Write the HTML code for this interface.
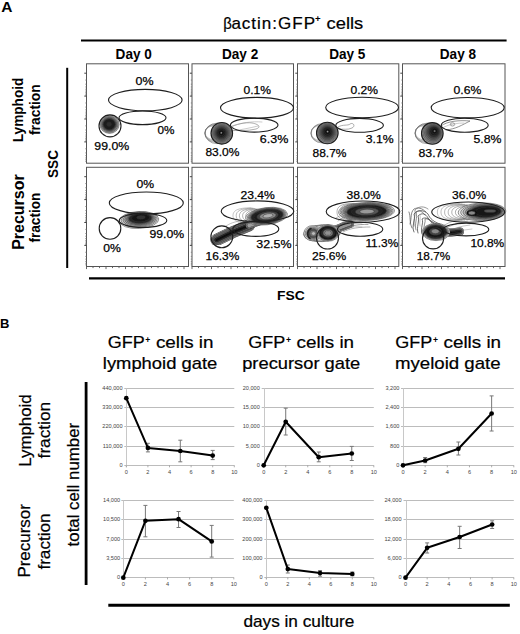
<!DOCTYPE html><html><head><meta charset="utf-8"><style>html,body{margin:0;padding:0;background:#fff;width:520px;height:634px;overflow:hidden}svg{display:block}text{font-family:"Liberation Sans",sans-serif}</style></head><body><svg width="520" height="634" viewBox="0 0 520 634"><defs>
<filter id="soft" x="-5%" y="-5%" width="110%" height="110%"><feGaussianBlur stdDeviation="0.35"/></filter>
<radialGradient id="gD"><stop offset="0" stop-color="#141414"/><stop offset="0.5" stop-color="#1c1c1c"/><stop offset="0.72" stop-color="#444"/><stop offset="0.88" stop-color="#7a7a7a"/><stop offset="1" stop-color="#a0a0a0"/></radialGradient>
<radialGradient id="gC"><stop offset="0" stop-color="#101010"/><stop offset="0.3" stop-color="#1a1a1a"/><stop offset="0.5" stop-color="#555"/><stop offset="0.8" stop-color="#7d7d7d"/><stop offset="1" stop-color="#9a9a9a"/></radialGradient>
<radialGradient id="gR"><stop offset="0" stop-color="#9a9a9a"/><stop offset="0.35" stop-color="#555"/><stop offset="0.6" stop-color="#161616"/><stop offset="0.85" stop-color="#222"/><stop offset="1" stop-color="#777"/></radialGradient>
<radialGradient id="gM"><stop offset="0" stop-color="#3a3a3a"/><stop offset="0.6" stop-color="#555"/><stop offset="1" stop-color="#9a9a9a"/></radialGradient>
<radialGradient id="gL"><stop offset="0" stop-color="#888"/><stop offset="0.7" stop-color="#aaa"/><stop offset="1" stop-color="#d0d0d0"/></radialGradient>
</defs><rect width="520" height="634" fill="#fff"/><text x="1.2" y="11.5" font-size="14.4" font-weight="bold" textLength="11.2" lengthAdjust="spacingAndGlyphs">A</text>
<text x="223.3" y="28.6" font-size="17" stroke="#000" stroke-width="0.22" textLength="8.6" lengthAdjust="spacingAndGlyphs">&#946;</text>
<text x="231.4" y="28.6" font-size="17" stroke="#000" stroke-width="0.22" textLength="83.6" lengthAdjust="spacing">actin:GFP</text>
<text x="314.9" y="22.0" font-size="9.6" font-weight="bold">+</text>
<text x="326.6" y="28.6" font-size="17" stroke="#000" stroke-width="0.22" textLength="36.6" lengthAdjust="spacingAndGlyphs">cells</text>
<line x1="81" y1="40.4" x2="506.6" y2="40.4" stroke="#000" stroke-width="2.0" />
<text x="115.6" y="59.2" font-size="13.8" font-weight="bold" textLength="36.2" lengthAdjust="spacingAndGlyphs">Day 0</text>
<text x="222.0" y="59.2" font-size="13.8" font-weight="bold" textLength="36.2" lengthAdjust="spacingAndGlyphs">Day 2</text>
<text x="329.2" y="59.2" font-size="13.8" font-weight="bold" textLength="36.2" lengthAdjust="spacingAndGlyphs">Day 5</text>
<text x="439.8" y="59.2" font-size="13.8" font-weight="bold" textLength="36.2" lengthAdjust="spacingAndGlyphs">Day 8</text>
<line x1="67.2" y1="67.8" x2="67.2" y2="268.0" stroke="#000" stroke-width="2.0" />
<rect x="86.5" y="63.8" width="102.0" height="99.39999999999999" fill="none" stroke="#555" stroke-width="1"/>
<line x1="84.3" y1="73.2" x2="86.5" y2="73.2" stroke="#444" stroke-width="1" />
<line x1="85.3" y1="80.07000000000001" x2="86.5" y2="80.07000000000001" stroke="#777" stroke-width="0.8" />
<line x1="85.3" y1="84.19200000000001" x2="86.5" y2="84.19200000000001" stroke="#777" stroke-width="0.8" />
<line x1="85.3" y1="86.94" x2="86.5" y2="86.94" stroke="#777" stroke-width="0.8" />
<line x1="85.3" y1="89.23" x2="86.5" y2="89.23" stroke="#777" stroke-width="0.8" />
<line x1="85.3" y1="91.062" x2="86.5" y2="91.062" stroke="#777" stroke-width="0.8" />
<line x1="85.3" y1="92.665" x2="86.5" y2="92.665" stroke="#777" stroke-width="0.8" />
<line x1="85.3" y1="94.039" x2="86.5" y2="94.039" stroke="#777" stroke-width="0.8" />
<line x1="85.3" y1="95.184" x2="86.5" y2="95.184" stroke="#777" stroke-width="0.8" />
<line x1="84.3" y1="96.1" x2="86.5" y2="96.1" stroke="#444" stroke-width="1" />
<line x1="85.3" y1="102.97" x2="86.5" y2="102.97" stroke="#777" stroke-width="0.8" />
<line x1="85.3" y1="107.092" x2="86.5" y2="107.092" stroke="#777" stroke-width="0.8" />
<line x1="85.3" y1="109.83999999999999" x2="86.5" y2="109.83999999999999" stroke="#777" stroke-width="0.8" />
<line x1="85.3" y1="112.13" x2="86.5" y2="112.13" stroke="#777" stroke-width="0.8" />
<line x1="85.3" y1="113.96199999999999" x2="86.5" y2="113.96199999999999" stroke="#777" stroke-width="0.8" />
<line x1="85.3" y1="115.565" x2="86.5" y2="115.565" stroke="#777" stroke-width="0.8" />
<line x1="85.3" y1="116.939" x2="86.5" y2="116.939" stroke="#777" stroke-width="0.8" />
<line x1="85.3" y1="118.08399999999999" x2="86.5" y2="118.08399999999999" stroke="#777" stroke-width="0.8" />
<line x1="84.3" y1="119.0" x2="86.5" y2="119.0" stroke="#444" stroke-width="1" />
<line x1="85.3" y1="125.87" x2="86.5" y2="125.87" stroke="#777" stroke-width="0.8" />
<line x1="85.3" y1="129.992" x2="86.5" y2="129.992" stroke="#777" stroke-width="0.8" />
<line x1="85.3" y1="132.74" x2="86.5" y2="132.74" stroke="#777" stroke-width="0.8" />
<line x1="85.3" y1="135.03" x2="86.5" y2="135.03" stroke="#777" stroke-width="0.8" />
<line x1="85.3" y1="136.862" x2="86.5" y2="136.862" stroke="#777" stroke-width="0.8" />
<line x1="85.3" y1="138.465" x2="86.5" y2="138.465" stroke="#777" stroke-width="0.8" />
<line x1="85.3" y1="139.839" x2="86.5" y2="139.839" stroke="#777" stroke-width="0.8" />
<line x1="85.3" y1="140.984" x2="86.5" y2="140.984" stroke="#777" stroke-width="0.8" />
<line x1="84.3" y1="141.89999999999998" x2="86.5" y2="141.89999999999998" stroke="#444" stroke-width="1" />
<line x1="85.3" y1="148.76999999999998" x2="86.5" y2="148.76999999999998" stroke="#777" stroke-width="0.8" />
<line x1="85.3" y1="152.89199999999997" x2="86.5" y2="152.89199999999997" stroke="#777" stroke-width="0.8" />
<line x1="85.3" y1="155.64" x2="86.5" y2="155.64" stroke="#777" stroke-width="0.8" />
<line x1="85.3" y1="157.92999999999998" x2="86.5" y2="157.92999999999998" stroke="#777" stroke-width="0.8" />
<line x1="85.3" y1="159.76199999999997" x2="86.5" y2="159.76199999999997" stroke="#777" stroke-width="0.8" />
<line x1="85.3" y1="161.36499999999998" x2="86.5" y2="161.36499999999998" stroke="#777" stroke-width="0.8" />
<rect x="192.0" y="63.8" width="101.5" height="99.39999999999999" fill="none" stroke="#555" stroke-width="1"/>
<line x1="189.8" y1="73.2" x2="192.0" y2="73.2" stroke="#444" stroke-width="1" />
<line x1="190.8" y1="80.07000000000001" x2="192.0" y2="80.07000000000001" stroke="#777" stroke-width="0.8" />
<line x1="190.8" y1="84.19200000000001" x2="192.0" y2="84.19200000000001" stroke="#777" stroke-width="0.8" />
<line x1="190.8" y1="86.94" x2="192.0" y2="86.94" stroke="#777" stroke-width="0.8" />
<line x1="190.8" y1="89.23" x2="192.0" y2="89.23" stroke="#777" stroke-width="0.8" />
<line x1="190.8" y1="91.062" x2="192.0" y2="91.062" stroke="#777" stroke-width="0.8" />
<line x1="190.8" y1="92.665" x2="192.0" y2="92.665" stroke="#777" stroke-width="0.8" />
<line x1="190.8" y1="94.039" x2="192.0" y2="94.039" stroke="#777" stroke-width="0.8" />
<line x1="190.8" y1="95.184" x2="192.0" y2="95.184" stroke="#777" stroke-width="0.8" />
<line x1="189.8" y1="96.1" x2="192.0" y2="96.1" stroke="#444" stroke-width="1" />
<line x1="190.8" y1="102.97" x2="192.0" y2="102.97" stroke="#777" stroke-width="0.8" />
<line x1="190.8" y1="107.092" x2="192.0" y2="107.092" stroke="#777" stroke-width="0.8" />
<line x1="190.8" y1="109.83999999999999" x2="192.0" y2="109.83999999999999" stroke="#777" stroke-width="0.8" />
<line x1="190.8" y1="112.13" x2="192.0" y2="112.13" stroke="#777" stroke-width="0.8" />
<line x1="190.8" y1="113.96199999999999" x2="192.0" y2="113.96199999999999" stroke="#777" stroke-width="0.8" />
<line x1="190.8" y1="115.565" x2="192.0" y2="115.565" stroke="#777" stroke-width="0.8" />
<line x1="190.8" y1="116.939" x2="192.0" y2="116.939" stroke="#777" stroke-width="0.8" />
<line x1="190.8" y1="118.08399999999999" x2="192.0" y2="118.08399999999999" stroke="#777" stroke-width="0.8" />
<line x1="189.8" y1="119.0" x2="192.0" y2="119.0" stroke="#444" stroke-width="1" />
<line x1="190.8" y1="125.87" x2="192.0" y2="125.87" stroke="#777" stroke-width="0.8" />
<line x1="190.8" y1="129.992" x2="192.0" y2="129.992" stroke="#777" stroke-width="0.8" />
<line x1="190.8" y1="132.74" x2="192.0" y2="132.74" stroke="#777" stroke-width="0.8" />
<line x1="190.8" y1="135.03" x2="192.0" y2="135.03" stroke="#777" stroke-width="0.8" />
<line x1="190.8" y1="136.862" x2="192.0" y2="136.862" stroke="#777" stroke-width="0.8" />
<line x1="190.8" y1="138.465" x2="192.0" y2="138.465" stroke="#777" stroke-width="0.8" />
<line x1="190.8" y1="139.839" x2="192.0" y2="139.839" stroke="#777" stroke-width="0.8" />
<line x1="190.8" y1="140.984" x2="192.0" y2="140.984" stroke="#777" stroke-width="0.8" />
<line x1="189.8" y1="141.89999999999998" x2="192.0" y2="141.89999999999998" stroke="#444" stroke-width="1" />
<line x1="190.8" y1="148.76999999999998" x2="192.0" y2="148.76999999999998" stroke="#777" stroke-width="0.8" />
<line x1="190.8" y1="152.89199999999997" x2="192.0" y2="152.89199999999997" stroke="#777" stroke-width="0.8" />
<line x1="190.8" y1="155.64" x2="192.0" y2="155.64" stroke="#777" stroke-width="0.8" />
<line x1="190.8" y1="157.92999999999998" x2="192.0" y2="157.92999999999998" stroke="#777" stroke-width="0.8" />
<line x1="190.8" y1="159.76199999999997" x2="192.0" y2="159.76199999999997" stroke="#777" stroke-width="0.8" />
<line x1="190.8" y1="161.36499999999998" x2="192.0" y2="161.36499999999998" stroke="#777" stroke-width="0.8" />
<rect x="297.5" y="63.8" width="101.30000000000001" height="99.39999999999999" fill="none" stroke="#555" stroke-width="1"/>
<line x1="295.3" y1="73.2" x2="297.5" y2="73.2" stroke="#444" stroke-width="1" />
<line x1="296.3" y1="80.07000000000001" x2="297.5" y2="80.07000000000001" stroke="#777" stroke-width="0.8" />
<line x1="296.3" y1="84.19200000000001" x2="297.5" y2="84.19200000000001" stroke="#777" stroke-width="0.8" />
<line x1="296.3" y1="86.94" x2="297.5" y2="86.94" stroke="#777" stroke-width="0.8" />
<line x1="296.3" y1="89.23" x2="297.5" y2="89.23" stroke="#777" stroke-width="0.8" />
<line x1="296.3" y1="91.062" x2="297.5" y2="91.062" stroke="#777" stroke-width="0.8" />
<line x1="296.3" y1="92.665" x2="297.5" y2="92.665" stroke="#777" stroke-width="0.8" />
<line x1="296.3" y1="94.039" x2="297.5" y2="94.039" stroke="#777" stroke-width="0.8" />
<line x1="296.3" y1="95.184" x2="297.5" y2="95.184" stroke="#777" stroke-width="0.8" />
<line x1="295.3" y1="96.1" x2="297.5" y2="96.1" stroke="#444" stroke-width="1" />
<line x1="296.3" y1="102.97" x2="297.5" y2="102.97" stroke="#777" stroke-width="0.8" />
<line x1="296.3" y1="107.092" x2="297.5" y2="107.092" stroke="#777" stroke-width="0.8" />
<line x1="296.3" y1="109.83999999999999" x2="297.5" y2="109.83999999999999" stroke="#777" stroke-width="0.8" />
<line x1="296.3" y1="112.13" x2="297.5" y2="112.13" stroke="#777" stroke-width="0.8" />
<line x1="296.3" y1="113.96199999999999" x2="297.5" y2="113.96199999999999" stroke="#777" stroke-width="0.8" />
<line x1="296.3" y1="115.565" x2="297.5" y2="115.565" stroke="#777" stroke-width="0.8" />
<line x1="296.3" y1="116.939" x2="297.5" y2="116.939" stroke="#777" stroke-width="0.8" />
<line x1="296.3" y1="118.08399999999999" x2="297.5" y2="118.08399999999999" stroke="#777" stroke-width="0.8" />
<line x1="295.3" y1="119.0" x2="297.5" y2="119.0" stroke="#444" stroke-width="1" />
<line x1="296.3" y1="125.87" x2="297.5" y2="125.87" stroke="#777" stroke-width="0.8" />
<line x1="296.3" y1="129.992" x2="297.5" y2="129.992" stroke="#777" stroke-width="0.8" />
<line x1="296.3" y1="132.74" x2="297.5" y2="132.74" stroke="#777" stroke-width="0.8" />
<line x1="296.3" y1="135.03" x2="297.5" y2="135.03" stroke="#777" stroke-width="0.8" />
<line x1="296.3" y1="136.862" x2="297.5" y2="136.862" stroke="#777" stroke-width="0.8" />
<line x1="296.3" y1="138.465" x2="297.5" y2="138.465" stroke="#777" stroke-width="0.8" />
<line x1="296.3" y1="139.839" x2="297.5" y2="139.839" stroke="#777" stroke-width="0.8" />
<line x1="296.3" y1="140.984" x2="297.5" y2="140.984" stroke="#777" stroke-width="0.8" />
<line x1="295.3" y1="141.89999999999998" x2="297.5" y2="141.89999999999998" stroke="#444" stroke-width="1" />
<line x1="296.3" y1="148.76999999999998" x2="297.5" y2="148.76999999999998" stroke="#777" stroke-width="0.8" />
<line x1="296.3" y1="152.89199999999997" x2="297.5" y2="152.89199999999997" stroke="#777" stroke-width="0.8" />
<line x1="296.3" y1="155.64" x2="297.5" y2="155.64" stroke="#777" stroke-width="0.8" />
<line x1="296.3" y1="157.92999999999998" x2="297.5" y2="157.92999999999998" stroke="#777" stroke-width="0.8" />
<line x1="296.3" y1="159.76199999999997" x2="297.5" y2="159.76199999999997" stroke="#777" stroke-width="0.8" />
<line x1="296.3" y1="161.36499999999998" x2="297.5" y2="161.36499999999998" stroke="#777" stroke-width="0.8" />
<rect x="402.5" y="63.8" width="102.5" height="99.39999999999999" fill="none" stroke="#555" stroke-width="1"/>
<line x1="400.3" y1="73.2" x2="402.5" y2="73.2" stroke="#444" stroke-width="1" />
<line x1="401.3" y1="80.07000000000001" x2="402.5" y2="80.07000000000001" stroke="#777" stroke-width="0.8" />
<line x1="401.3" y1="84.19200000000001" x2="402.5" y2="84.19200000000001" stroke="#777" stroke-width="0.8" />
<line x1="401.3" y1="86.94" x2="402.5" y2="86.94" stroke="#777" stroke-width="0.8" />
<line x1="401.3" y1="89.23" x2="402.5" y2="89.23" stroke="#777" stroke-width="0.8" />
<line x1="401.3" y1="91.062" x2="402.5" y2="91.062" stroke="#777" stroke-width="0.8" />
<line x1="401.3" y1="92.665" x2="402.5" y2="92.665" stroke="#777" stroke-width="0.8" />
<line x1="401.3" y1="94.039" x2="402.5" y2="94.039" stroke="#777" stroke-width="0.8" />
<line x1="401.3" y1="95.184" x2="402.5" y2="95.184" stroke="#777" stroke-width="0.8" />
<line x1="400.3" y1="96.1" x2="402.5" y2="96.1" stroke="#444" stroke-width="1" />
<line x1="401.3" y1="102.97" x2="402.5" y2="102.97" stroke="#777" stroke-width="0.8" />
<line x1="401.3" y1="107.092" x2="402.5" y2="107.092" stroke="#777" stroke-width="0.8" />
<line x1="401.3" y1="109.83999999999999" x2="402.5" y2="109.83999999999999" stroke="#777" stroke-width="0.8" />
<line x1="401.3" y1="112.13" x2="402.5" y2="112.13" stroke="#777" stroke-width="0.8" />
<line x1="401.3" y1="113.96199999999999" x2="402.5" y2="113.96199999999999" stroke="#777" stroke-width="0.8" />
<line x1="401.3" y1="115.565" x2="402.5" y2="115.565" stroke="#777" stroke-width="0.8" />
<line x1="401.3" y1="116.939" x2="402.5" y2="116.939" stroke="#777" stroke-width="0.8" />
<line x1="401.3" y1="118.08399999999999" x2="402.5" y2="118.08399999999999" stroke="#777" stroke-width="0.8" />
<line x1="400.3" y1="119.0" x2="402.5" y2="119.0" stroke="#444" stroke-width="1" />
<line x1="401.3" y1="125.87" x2="402.5" y2="125.87" stroke="#777" stroke-width="0.8" />
<line x1="401.3" y1="129.992" x2="402.5" y2="129.992" stroke="#777" stroke-width="0.8" />
<line x1="401.3" y1="132.74" x2="402.5" y2="132.74" stroke="#777" stroke-width="0.8" />
<line x1="401.3" y1="135.03" x2="402.5" y2="135.03" stroke="#777" stroke-width="0.8" />
<line x1="401.3" y1="136.862" x2="402.5" y2="136.862" stroke="#777" stroke-width="0.8" />
<line x1="401.3" y1="138.465" x2="402.5" y2="138.465" stroke="#777" stroke-width="0.8" />
<line x1="401.3" y1="139.839" x2="402.5" y2="139.839" stroke="#777" stroke-width="0.8" />
<line x1="401.3" y1="140.984" x2="402.5" y2="140.984" stroke="#777" stroke-width="0.8" />
<line x1="400.3" y1="141.89999999999998" x2="402.5" y2="141.89999999999998" stroke="#444" stroke-width="1" />
<line x1="401.3" y1="148.76999999999998" x2="402.5" y2="148.76999999999998" stroke="#777" stroke-width="0.8" />
<line x1="401.3" y1="152.89199999999997" x2="402.5" y2="152.89199999999997" stroke="#777" stroke-width="0.8" />
<line x1="401.3" y1="155.64" x2="402.5" y2="155.64" stroke="#777" stroke-width="0.8" />
<line x1="401.3" y1="157.92999999999998" x2="402.5" y2="157.92999999999998" stroke="#777" stroke-width="0.8" />
<line x1="401.3" y1="159.76199999999997" x2="402.5" y2="159.76199999999997" stroke="#777" stroke-width="0.8" />
<line x1="401.3" y1="161.36499999999998" x2="402.5" y2="161.36499999999998" stroke="#777" stroke-width="0.8" />
<rect x="86.5" y="167.3" width="102.0" height="99.19999999999999" fill="none" stroke="#555" stroke-width="1"/>
<line x1="84.3" y1="176.70000000000002" x2="86.5" y2="176.70000000000002" stroke="#444" stroke-width="1" />
<line x1="85.3" y1="183.57000000000002" x2="86.5" y2="183.57000000000002" stroke="#777" stroke-width="0.8" />
<line x1="85.3" y1="187.692" x2="86.5" y2="187.692" stroke="#777" stroke-width="0.8" />
<line x1="85.3" y1="190.44000000000003" x2="86.5" y2="190.44000000000003" stroke="#777" stroke-width="0.8" />
<line x1="85.3" y1="192.73000000000002" x2="86.5" y2="192.73000000000002" stroke="#777" stroke-width="0.8" />
<line x1="85.3" y1="194.562" x2="86.5" y2="194.562" stroke="#777" stroke-width="0.8" />
<line x1="85.3" y1="196.16500000000002" x2="86.5" y2="196.16500000000002" stroke="#777" stroke-width="0.8" />
<line x1="85.3" y1="197.53900000000002" x2="86.5" y2="197.53900000000002" stroke="#777" stroke-width="0.8" />
<line x1="85.3" y1="198.68400000000003" x2="86.5" y2="198.68400000000003" stroke="#777" stroke-width="0.8" />
<line x1="84.3" y1="199.60000000000002" x2="86.5" y2="199.60000000000002" stroke="#444" stroke-width="1" />
<line x1="85.3" y1="206.47000000000003" x2="86.5" y2="206.47000000000003" stroke="#777" stroke-width="0.8" />
<line x1="85.3" y1="210.592" x2="86.5" y2="210.592" stroke="#777" stroke-width="0.8" />
<line x1="85.3" y1="213.34000000000003" x2="86.5" y2="213.34000000000003" stroke="#777" stroke-width="0.8" />
<line x1="85.3" y1="215.63000000000002" x2="86.5" y2="215.63000000000002" stroke="#777" stroke-width="0.8" />
<line x1="85.3" y1="217.46200000000002" x2="86.5" y2="217.46200000000002" stroke="#777" stroke-width="0.8" />
<line x1="85.3" y1="219.06500000000003" x2="86.5" y2="219.06500000000003" stroke="#777" stroke-width="0.8" />
<line x1="85.3" y1="220.43900000000002" x2="86.5" y2="220.43900000000002" stroke="#777" stroke-width="0.8" />
<line x1="85.3" y1="221.58400000000003" x2="86.5" y2="221.58400000000003" stroke="#777" stroke-width="0.8" />
<line x1="84.3" y1="222.5" x2="86.5" y2="222.5" stroke="#444" stroke-width="1" />
<line x1="85.3" y1="229.37" x2="86.5" y2="229.37" stroke="#777" stroke-width="0.8" />
<line x1="85.3" y1="233.492" x2="86.5" y2="233.492" stroke="#777" stroke-width="0.8" />
<line x1="85.3" y1="236.24" x2="86.5" y2="236.24" stroke="#777" stroke-width="0.8" />
<line x1="85.3" y1="238.53" x2="86.5" y2="238.53" stroke="#777" stroke-width="0.8" />
<line x1="85.3" y1="240.362" x2="86.5" y2="240.362" stroke="#777" stroke-width="0.8" />
<line x1="85.3" y1="241.965" x2="86.5" y2="241.965" stroke="#777" stroke-width="0.8" />
<line x1="85.3" y1="243.339" x2="86.5" y2="243.339" stroke="#777" stroke-width="0.8" />
<line x1="85.3" y1="244.484" x2="86.5" y2="244.484" stroke="#777" stroke-width="0.8" />
<line x1="84.3" y1="245.4" x2="86.5" y2="245.4" stroke="#444" stroke-width="1" />
<line x1="85.3" y1="252.27" x2="86.5" y2="252.27" stroke="#777" stroke-width="0.8" />
<line x1="85.3" y1="256.392" x2="86.5" y2="256.392" stroke="#777" stroke-width="0.8" />
<line x1="85.3" y1="259.14" x2="86.5" y2="259.14" stroke="#777" stroke-width="0.8" />
<line x1="85.3" y1="261.43" x2="86.5" y2="261.43" stroke="#777" stroke-width="0.8" />
<line x1="85.3" y1="263.262" x2="86.5" y2="263.262" stroke="#777" stroke-width="0.8" />
<line x1="85.3" y1="264.865" x2="86.5" y2="264.865" stroke="#777" stroke-width="0.8" />
<line x1="86.5" y1="266.5" x2="86.5" y2="269.1" stroke="#555" stroke-width="0.9" />
<line x1="93.0" y1="266.5" x2="93.0" y2="268.1" stroke="#555" stroke-width="0.9" />
<line x1="99.5" y1="266.5" x2="99.5" y2="268.1" stroke="#555" stroke-width="0.9" />
<line x1="106.0" y1="266.5" x2="106.0" y2="269.1" stroke="#555" stroke-width="0.9" />
<line x1="112.5" y1="266.5" x2="112.5" y2="268.1" stroke="#555" stroke-width="0.9" />
<line x1="119.0" y1="266.5" x2="119.0" y2="268.1" stroke="#555" stroke-width="0.9" />
<line x1="125.5" y1="266.5" x2="125.5" y2="269.1" stroke="#555" stroke-width="0.9" />
<line x1="132.0" y1="266.5" x2="132.0" y2="268.1" stroke="#555" stroke-width="0.9" />
<line x1="138.5" y1="266.5" x2="138.5" y2="268.1" stroke="#555" stroke-width="0.9" />
<line x1="145.0" y1="266.5" x2="145.0" y2="269.1" stroke="#555" stroke-width="0.9" />
<line x1="151.5" y1="266.5" x2="151.5" y2="268.1" stroke="#555" stroke-width="0.9" />
<line x1="158.0" y1="266.5" x2="158.0" y2="268.1" stroke="#555" stroke-width="0.9" />
<line x1="164.5" y1="266.5" x2="164.5" y2="269.1" stroke="#555" stroke-width="0.9" />
<line x1="171.0" y1="266.5" x2="171.0" y2="268.1" stroke="#555" stroke-width="0.9" />
<line x1="177.5" y1="266.5" x2="177.5" y2="268.1" stroke="#555" stroke-width="0.9" />
<line x1="184.0" y1="266.5" x2="184.0" y2="269.1" stroke="#555" stroke-width="0.9" />
<rect x="192.0" y="167.3" width="101.5" height="99.19999999999999" fill="none" stroke="#555" stroke-width="1"/>
<line x1="189.8" y1="176.70000000000002" x2="192.0" y2="176.70000000000002" stroke="#444" stroke-width="1" />
<line x1="190.8" y1="183.57000000000002" x2="192.0" y2="183.57000000000002" stroke="#777" stroke-width="0.8" />
<line x1="190.8" y1="187.692" x2="192.0" y2="187.692" stroke="#777" stroke-width="0.8" />
<line x1="190.8" y1="190.44000000000003" x2="192.0" y2="190.44000000000003" stroke="#777" stroke-width="0.8" />
<line x1="190.8" y1="192.73000000000002" x2="192.0" y2="192.73000000000002" stroke="#777" stroke-width="0.8" />
<line x1="190.8" y1="194.562" x2="192.0" y2="194.562" stroke="#777" stroke-width="0.8" />
<line x1="190.8" y1="196.16500000000002" x2="192.0" y2="196.16500000000002" stroke="#777" stroke-width="0.8" />
<line x1="190.8" y1="197.53900000000002" x2="192.0" y2="197.53900000000002" stroke="#777" stroke-width="0.8" />
<line x1="190.8" y1="198.68400000000003" x2="192.0" y2="198.68400000000003" stroke="#777" stroke-width="0.8" />
<line x1="189.8" y1="199.60000000000002" x2="192.0" y2="199.60000000000002" stroke="#444" stroke-width="1" />
<line x1="190.8" y1="206.47000000000003" x2="192.0" y2="206.47000000000003" stroke="#777" stroke-width="0.8" />
<line x1="190.8" y1="210.592" x2="192.0" y2="210.592" stroke="#777" stroke-width="0.8" />
<line x1="190.8" y1="213.34000000000003" x2="192.0" y2="213.34000000000003" stroke="#777" stroke-width="0.8" />
<line x1="190.8" y1="215.63000000000002" x2="192.0" y2="215.63000000000002" stroke="#777" stroke-width="0.8" />
<line x1="190.8" y1="217.46200000000002" x2="192.0" y2="217.46200000000002" stroke="#777" stroke-width="0.8" />
<line x1="190.8" y1="219.06500000000003" x2="192.0" y2="219.06500000000003" stroke="#777" stroke-width="0.8" />
<line x1="190.8" y1="220.43900000000002" x2="192.0" y2="220.43900000000002" stroke="#777" stroke-width="0.8" />
<line x1="190.8" y1="221.58400000000003" x2="192.0" y2="221.58400000000003" stroke="#777" stroke-width="0.8" />
<line x1="189.8" y1="222.5" x2="192.0" y2="222.5" stroke="#444" stroke-width="1" />
<line x1="190.8" y1="229.37" x2="192.0" y2="229.37" stroke="#777" stroke-width="0.8" />
<line x1="190.8" y1="233.492" x2="192.0" y2="233.492" stroke="#777" stroke-width="0.8" />
<line x1="190.8" y1="236.24" x2="192.0" y2="236.24" stroke="#777" stroke-width="0.8" />
<line x1="190.8" y1="238.53" x2="192.0" y2="238.53" stroke="#777" stroke-width="0.8" />
<line x1="190.8" y1="240.362" x2="192.0" y2="240.362" stroke="#777" stroke-width="0.8" />
<line x1="190.8" y1="241.965" x2="192.0" y2="241.965" stroke="#777" stroke-width="0.8" />
<line x1="190.8" y1="243.339" x2="192.0" y2="243.339" stroke="#777" stroke-width="0.8" />
<line x1="190.8" y1="244.484" x2="192.0" y2="244.484" stroke="#777" stroke-width="0.8" />
<line x1="189.8" y1="245.4" x2="192.0" y2="245.4" stroke="#444" stroke-width="1" />
<line x1="190.8" y1="252.27" x2="192.0" y2="252.27" stroke="#777" stroke-width="0.8" />
<line x1="190.8" y1="256.392" x2="192.0" y2="256.392" stroke="#777" stroke-width="0.8" />
<line x1="190.8" y1="259.14" x2="192.0" y2="259.14" stroke="#777" stroke-width="0.8" />
<line x1="190.8" y1="261.43" x2="192.0" y2="261.43" stroke="#777" stroke-width="0.8" />
<line x1="190.8" y1="263.262" x2="192.0" y2="263.262" stroke="#777" stroke-width="0.8" />
<line x1="190.8" y1="264.865" x2="192.0" y2="264.865" stroke="#777" stroke-width="0.8" />
<line x1="192.0" y1="266.5" x2="192.0" y2="269.1" stroke="#555" stroke-width="0.9" />
<line x1="198.5" y1="266.5" x2="198.5" y2="268.1" stroke="#555" stroke-width="0.9" />
<line x1="205.0" y1="266.5" x2="205.0" y2="268.1" stroke="#555" stroke-width="0.9" />
<line x1="211.5" y1="266.5" x2="211.5" y2="269.1" stroke="#555" stroke-width="0.9" />
<line x1="218.0" y1="266.5" x2="218.0" y2="268.1" stroke="#555" stroke-width="0.9" />
<line x1="224.5" y1="266.5" x2="224.5" y2="268.1" stroke="#555" stroke-width="0.9" />
<line x1="231.0" y1="266.5" x2="231.0" y2="269.1" stroke="#555" stroke-width="0.9" />
<line x1="237.5" y1="266.5" x2="237.5" y2="268.1" stroke="#555" stroke-width="0.9" />
<line x1="244.0" y1="266.5" x2="244.0" y2="268.1" stroke="#555" stroke-width="0.9" />
<line x1="250.5" y1="266.5" x2="250.5" y2="269.1" stroke="#555" stroke-width="0.9" />
<line x1="257.0" y1="266.5" x2="257.0" y2="268.1" stroke="#555" stroke-width="0.9" />
<line x1="263.5" y1="266.5" x2="263.5" y2="268.1" stroke="#555" stroke-width="0.9" />
<line x1="270.0" y1="266.5" x2="270.0" y2="269.1" stroke="#555" stroke-width="0.9" />
<line x1="276.5" y1="266.5" x2="276.5" y2="268.1" stroke="#555" stroke-width="0.9" />
<line x1="283.0" y1="266.5" x2="283.0" y2="268.1" stroke="#555" stroke-width="0.9" />
<line x1="289.5" y1="266.5" x2="289.5" y2="269.1" stroke="#555" stroke-width="0.9" />
<rect x="297.5" y="167.3" width="101.30000000000001" height="99.19999999999999" fill="none" stroke="#555" stroke-width="1"/>
<line x1="295.3" y1="176.70000000000002" x2="297.5" y2="176.70000000000002" stroke="#444" stroke-width="1" />
<line x1="296.3" y1="183.57000000000002" x2="297.5" y2="183.57000000000002" stroke="#777" stroke-width="0.8" />
<line x1="296.3" y1="187.692" x2="297.5" y2="187.692" stroke="#777" stroke-width="0.8" />
<line x1="296.3" y1="190.44000000000003" x2="297.5" y2="190.44000000000003" stroke="#777" stroke-width="0.8" />
<line x1="296.3" y1="192.73000000000002" x2="297.5" y2="192.73000000000002" stroke="#777" stroke-width="0.8" />
<line x1="296.3" y1="194.562" x2="297.5" y2="194.562" stroke="#777" stroke-width="0.8" />
<line x1="296.3" y1="196.16500000000002" x2="297.5" y2="196.16500000000002" stroke="#777" stroke-width="0.8" />
<line x1="296.3" y1="197.53900000000002" x2="297.5" y2="197.53900000000002" stroke="#777" stroke-width="0.8" />
<line x1="296.3" y1="198.68400000000003" x2="297.5" y2="198.68400000000003" stroke="#777" stroke-width="0.8" />
<line x1="295.3" y1="199.60000000000002" x2="297.5" y2="199.60000000000002" stroke="#444" stroke-width="1" />
<line x1="296.3" y1="206.47000000000003" x2="297.5" y2="206.47000000000003" stroke="#777" stroke-width="0.8" />
<line x1="296.3" y1="210.592" x2="297.5" y2="210.592" stroke="#777" stroke-width="0.8" />
<line x1="296.3" y1="213.34000000000003" x2="297.5" y2="213.34000000000003" stroke="#777" stroke-width="0.8" />
<line x1="296.3" y1="215.63000000000002" x2="297.5" y2="215.63000000000002" stroke="#777" stroke-width="0.8" />
<line x1="296.3" y1="217.46200000000002" x2="297.5" y2="217.46200000000002" stroke="#777" stroke-width="0.8" />
<line x1="296.3" y1="219.06500000000003" x2="297.5" y2="219.06500000000003" stroke="#777" stroke-width="0.8" />
<line x1="296.3" y1="220.43900000000002" x2="297.5" y2="220.43900000000002" stroke="#777" stroke-width="0.8" />
<line x1="296.3" y1="221.58400000000003" x2="297.5" y2="221.58400000000003" stroke="#777" stroke-width="0.8" />
<line x1="295.3" y1="222.5" x2="297.5" y2="222.5" stroke="#444" stroke-width="1" />
<line x1="296.3" y1="229.37" x2="297.5" y2="229.37" stroke="#777" stroke-width="0.8" />
<line x1="296.3" y1="233.492" x2="297.5" y2="233.492" stroke="#777" stroke-width="0.8" />
<line x1="296.3" y1="236.24" x2="297.5" y2="236.24" stroke="#777" stroke-width="0.8" />
<line x1="296.3" y1="238.53" x2="297.5" y2="238.53" stroke="#777" stroke-width="0.8" />
<line x1="296.3" y1="240.362" x2="297.5" y2="240.362" stroke="#777" stroke-width="0.8" />
<line x1="296.3" y1="241.965" x2="297.5" y2="241.965" stroke="#777" stroke-width="0.8" />
<line x1="296.3" y1="243.339" x2="297.5" y2="243.339" stroke="#777" stroke-width="0.8" />
<line x1="296.3" y1="244.484" x2="297.5" y2="244.484" stroke="#777" stroke-width="0.8" />
<line x1="295.3" y1="245.4" x2="297.5" y2="245.4" stroke="#444" stroke-width="1" />
<line x1="296.3" y1="252.27" x2="297.5" y2="252.27" stroke="#777" stroke-width="0.8" />
<line x1="296.3" y1="256.392" x2="297.5" y2="256.392" stroke="#777" stroke-width="0.8" />
<line x1="296.3" y1="259.14" x2="297.5" y2="259.14" stroke="#777" stroke-width="0.8" />
<line x1="296.3" y1="261.43" x2="297.5" y2="261.43" stroke="#777" stroke-width="0.8" />
<line x1="296.3" y1="263.262" x2="297.5" y2="263.262" stroke="#777" stroke-width="0.8" />
<line x1="296.3" y1="264.865" x2="297.5" y2="264.865" stroke="#777" stroke-width="0.8" />
<line x1="297.5" y1="266.5" x2="297.5" y2="269.1" stroke="#555" stroke-width="0.9" />
<line x1="304.0" y1="266.5" x2="304.0" y2="268.1" stroke="#555" stroke-width="0.9" />
<line x1="310.5" y1="266.5" x2="310.5" y2="268.1" stroke="#555" stroke-width="0.9" />
<line x1="317.0" y1="266.5" x2="317.0" y2="269.1" stroke="#555" stroke-width="0.9" />
<line x1="323.5" y1="266.5" x2="323.5" y2="268.1" stroke="#555" stroke-width="0.9" />
<line x1="330.0" y1="266.5" x2="330.0" y2="268.1" stroke="#555" stroke-width="0.9" />
<line x1="336.5" y1="266.5" x2="336.5" y2="269.1" stroke="#555" stroke-width="0.9" />
<line x1="343.0" y1="266.5" x2="343.0" y2="268.1" stroke="#555" stroke-width="0.9" />
<line x1="349.5" y1="266.5" x2="349.5" y2="268.1" stroke="#555" stroke-width="0.9" />
<line x1="356.0" y1="266.5" x2="356.0" y2="269.1" stroke="#555" stroke-width="0.9" />
<line x1="362.5" y1="266.5" x2="362.5" y2="268.1" stroke="#555" stroke-width="0.9" />
<line x1="369.0" y1="266.5" x2="369.0" y2="268.1" stroke="#555" stroke-width="0.9" />
<line x1="375.5" y1="266.5" x2="375.5" y2="269.1" stroke="#555" stroke-width="0.9" />
<line x1="382.0" y1="266.5" x2="382.0" y2="268.1" stroke="#555" stroke-width="0.9" />
<line x1="388.5" y1="266.5" x2="388.5" y2="268.1" stroke="#555" stroke-width="0.9" />
<line x1="395.0" y1="266.5" x2="395.0" y2="269.1" stroke="#555" stroke-width="0.9" />
<rect x="402.5" y="167.3" width="102.5" height="99.19999999999999" fill="none" stroke="#555" stroke-width="1"/>
<line x1="400.3" y1="176.70000000000002" x2="402.5" y2="176.70000000000002" stroke="#444" stroke-width="1" />
<line x1="401.3" y1="183.57000000000002" x2="402.5" y2="183.57000000000002" stroke="#777" stroke-width="0.8" />
<line x1="401.3" y1="187.692" x2="402.5" y2="187.692" stroke="#777" stroke-width="0.8" />
<line x1="401.3" y1="190.44000000000003" x2="402.5" y2="190.44000000000003" stroke="#777" stroke-width="0.8" />
<line x1="401.3" y1="192.73000000000002" x2="402.5" y2="192.73000000000002" stroke="#777" stroke-width="0.8" />
<line x1="401.3" y1="194.562" x2="402.5" y2="194.562" stroke="#777" stroke-width="0.8" />
<line x1="401.3" y1="196.16500000000002" x2="402.5" y2="196.16500000000002" stroke="#777" stroke-width="0.8" />
<line x1="401.3" y1="197.53900000000002" x2="402.5" y2="197.53900000000002" stroke="#777" stroke-width="0.8" />
<line x1="401.3" y1="198.68400000000003" x2="402.5" y2="198.68400000000003" stroke="#777" stroke-width="0.8" />
<line x1="400.3" y1="199.60000000000002" x2="402.5" y2="199.60000000000002" stroke="#444" stroke-width="1" />
<line x1="401.3" y1="206.47000000000003" x2="402.5" y2="206.47000000000003" stroke="#777" stroke-width="0.8" />
<line x1="401.3" y1="210.592" x2="402.5" y2="210.592" stroke="#777" stroke-width="0.8" />
<line x1="401.3" y1="213.34000000000003" x2="402.5" y2="213.34000000000003" stroke="#777" stroke-width="0.8" />
<line x1="401.3" y1="215.63000000000002" x2="402.5" y2="215.63000000000002" stroke="#777" stroke-width="0.8" />
<line x1="401.3" y1="217.46200000000002" x2="402.5" y2="217.46200000000002" stroke="#777" stroke-width="0.8" />
<line x1="401.3" y1="219.06500000000003" x2="402.5" y2="219.06500000000003" stroke="#777" stroke-width="0.8" />
<line x1="401.3" y1="220.43900000000002" x2="402.5" y2="220.43900000000002" stroke="#777" stroke-width="0.8" />
<line x1="401.3" y1="221.58400000000003" x2="402.5" y2="221.58400000000003" stroke="#777" stroke-width="0.8" />
<line x1="400.3" y1="222.5" x2="402.5" y2="222.5" stroke="#444" stroke-width="1" />
<line x1="401.3" y1="229.37" x2="402.5" y2="229.37" stroke="#777" stroke-width="0.8" />
<line x1="401.3" y1="233.492" x2="402.5" y2="233.492" stroke="#777" stroke-width="0.8" />
<line x1="401.3" y1="236.24" x2="402.5" y2="236.24" stroke="#777" stroke-width="0.8" />
<line x1="401.3" y1="238.53" x2="402.5" y2="238.53" stroke="#777" stroke-width="0.8" />
<line x1="401.3" y1="240.362" x2="402.5" y2="240.362" stroke="#777" stroke-width="0.8" />
<line x1="401.3" y1="241.965" x2="402.5" y2="241.965" stroke="#777" stroke-width="0.8" />
<line x1="401.3" y1="243.339" x2="402.5" y2="243.339" stroke="#777" stroke-width="0.8" />
<line x1="401.3" y1="244.484" x2="402.5" y2="244.484" stroke="#777" stroke-width="0.8" />
<line x1="400.3" y1="245.4" x2="402.5" y2="245.4" stroke="#444" stroke-width="1" />
<line x1="401.3" y1="252.27" x2="402.5" y2="252.27" stroke="#777" stroke-width="0.8" />
<line x1="401.3" y1="256.392" x2="402.5" y2="256.392" stroke="#777" stroke-width="0.8" />
<line x1="401.3" y1="259.14" x2="402.5" y2="259.14" stroke="#777" stroke-width="0.8" />
<line x1="401.3" y1="261.43" x2="402.5" y2="261.43" stroke="#777" stroke-width="0.8" />
<line x1="401.3" y1="263.262" x2="402.5" y2="263.262" stroke="#777" stroke-width="0.8" />
<line x1="401.3" y1="264.865" x2="402.5" y2="264.865" stroke="#777" stroke-width="0.8" />
<line x1="402.5" y1="266.5" x2="402.5" y2="269.1" stroke="#555" stroke-width="0.9" />
<line x1="409.0" y1="266.5" x2="409.0" y2="268.1" stroke="#555" stroke-width="0.9" />
<line x1="415.5" y1="266.5" x2="415.5" y2="268.1" stroke="#555" stroke-width="0.9" />
<line x1="422.0" y1="266.5" x2="422.0" y2="269.1" stroke="#555" stroke-width="0.9" />
<line x1="428.5" y1="266.5" x2="428.5" y2="268.1" stroke="#555" stroke-width="0.9" />
<line x1="435.0" y1="266.5" x2="435.0" y2="268.1" stroke="#555" stroke-width="0.9" />
<line x1="441.5" y1="266.5" x2="441.5" y2="269.1" stroke="#555" stroke-width="0.9" />
<line x1="448.0" y1="266.5" x2="448.0" y2="268.1" stroke="#555" stroke-width="0.9" />
<line x1="454.5" y1="266.5" x2="454.5" y2="268.1" stroke="#555" stroke-width="0.9" />
<line x1="461.0" y1="266.5" x2="461.0" y2="269.1" stroke="#555" stroke-width="0.9" />
<line x1="467.5" y1="266.5" x2="467.5" y2="268.1" stroke="#555" stroke-width="0.9" />
<line x1="474.0" y1="266.5" x2="474.0" y2="268.1" stroke="#555" stroke-width="0.9" />
<line x1="480.5" y1="266.5" x2="480.5" y2="269.1" stroke="#555" stroke-width="0.9" />
<line x1="487.0" y1="266.5" x2="487.0" y2="268.1" stroke="#555" stroke-width="0.9" />
<line x1="493.5" y1="266.5" x2="493.5" y2="268.1" stroke="#555" stroke-width="0.9" />
<line x1="500.0" y1="266.5" x2="500.0" y2="269.1" stroke="#555" stroke-width="0.9" />
<text x="23.4" y="142.2" font-size="15.0" transform="rotate(-90 23.4 142.2)" font-weight="bold" textLength="64.5" lengthAdjust="spacingAndGlyphs">Lymphoid</text>
<text x="39.8" y="135.0" font-size="13.8" transform="rotate(-90 39.8 135.0)" font-weight="bold" textLength="50.8" lengthAdjust="spacingAndGlyphs">fraction</text>
<text x="24.3" y="249.8" font-size="16.0" transform="rotate(-90 24.3 249.8)" font-weight="bold" textLength="75.5" lengthAdjust="spacingAndGlyphs">Precursor</text>
<text x="39.8" y="242.6" font-size="13.8" transform="rotate(-90 39.8 242.6)" font-weight="bold" textLength="50.0" lengthAdjust="spacingAndGlyphs">fraction</text>
<text x="58.3" y="178.0" font-size="14.0" transform="rotate(-90 58.3 178.0)" font-weight="bold" textLength="28.0" lengthAdjust="spacingAndGlyphs">SSC</text>
<line x1="89" y1="278.4" x2="505" y2="278.4" stroke="#000" stroke-width="2.2" />
<text x="277.0" y="300.2" font-size="13.5" font-weight="bold" textLength="27.8" lengthAdjust="spacingAndGlyphs">FSC</text>
<text x="0.1" y="328.3" font-size="13.2" font-weight="bold" textLength="9.4" lengthAdjust="spacingAndGlyphs">B</text>
<text x="107.7" y="347.8" font-size="17" stroke="#000" stroke-width="0.22" textLength="37.0" lengthAdjust="spacingAndGlyphs">GFP</text>
<text x="145.3" y="342.5" font-size="8.6" font-weight="bold">+</text>
<text x="155.9" y="347.8" font-size="17" stroke="#000" stroke-width="0.22" textLength="57.6" lengthAdjust="spacingAndGlyphs">cells in</text>
<text x="102.8" y="369.1" font-size="17" stroke="#000" stroke-width="0.22" textLength="114.5" lengthAdjust="spacingAndGlyphs">lymphoid gate</text>
<text x="248.3" y="347.8" font-size="17" stroke="#000" stroke-width="0.22" textLength="37.0" lengthAdjust="spacingAndGlyphs">GFP</text>
<text x="285.9" y="342.5" font-size="8.6" font-weight="bold">+</text>
<text x="296.5" y="347.8" font-size="17" stroke="#000" stroke-width="0.22" textLength="57.6" lengthAdjust="spacingAndGlyphs">cells in</text>
<text x="242.2" y="369.1" font-size="17" stroke="#000" stroke-width="0.22" textLength="118.0" lengthAdjust="spacingAndGlyphs">precursor gate</text>
<text x="395.3" y="347.8" font-size="17" stroke="#000" stroke-width="0.22" textLength="37.0" lengthAdjust="spacingAndGlyphs">GFP</text>
<text x="432.9" y="342.5" font-size="8.6" font-weight="bold">+</text>
<text x="443.5" y="347.8" font-size="17" stroke="#000" stroke-width="0.22" textLength="57.6" lengthAdjust="spacingAndGlyphs">cells in</text>
<text x="395.0" y="369.1" font-size="17" stroke="#000" stroke-width="0.22" textLength="105.6" lengthAdjust="spacingAndGlyphs">myeloid gate</text>
<text x="30.8" y="466.8" font-size="17" transform="rotate(-90 30.8 466.8)" stroke="#000" stroke-width="0.22" textLength="72.5" lengthAdjust="spacingAndGlyphs">Lymphoid</text>
<text x="49.8" y="458.4" font-size="17" transform="rotate(-90 49.8 458.4)" stroke="#000" stroke-width="0.22" textLength="56.5" lengthAdjust="spacingAndGlyphs">fraction</text>
<text x="30.0" y="577.6" font-size="17" transform="rotate(-90 30.0 577.6)" stroke="#000" stroke-width="0.22" textLength="73.5" lengthAdjust="spacingAndGlyphs">Precursor</text>
<text x="49.8" y="569.6" font-size="17" transform="rotate(-90 49.8 569.6)" stroke="#000" stroke-width="0.22" textLength="56.2" lengthAdjust="spacingAndGlyphs">fraction</text>
<text x="79.0" y="546.4" font-size="17" transform="rotate(-90 79.0 546.4)" stroke="#000" stroke-width="0.22" textLength="123.5" lengthAdjust="spacingAndGlyphs">total cell number</text>
<line x1="86.1" y1="382.0" x2="86.1" y2="585.0" stroke="#000" stroke-width="2.8" />
<line x1="108.3" y1="605.3" x2="509.8" y2="605.3" stroke="#000" stroke-width="2.9" />
<text x="243.4" y="626.7" font-size="17" stroke="#000" stroke-width="0.22" textLength="111.0" lengthAdjust="spacingAndGlyphs">days in culture</text>
<line x1="124.3" y1="388.5" x2="234.3" y2="388.5" stroke="#bcbcbc" stroke-width="1" />
<text x="122.6" y="390.3" font-size="5.6" fill="#444" text-anchor="end">440,000</text>
<line x1="124.3" y1="407.5" x2="234.3" y2="407.5" stroke="#bcbcbc" stroke-width="1" />
<text x="122.6" y="409.3" font-size="5.6" fill="#444" text-anchor="end">330,000</text>
<line x1="124.3" y1="426.5" x2="234.3" y2="426.5" stroke="#bcbcbc" stroke-width="1" />
<text x="122.6" y="428.3" font-size="5.6" fill="#444" text-anchor="end">220,000</text>
<line x1="124.3" y1="446.5" x2="234.3" y2="446.5" stroke="#bcbcbc" stroke-width="1" />
<text x="122.6" y="448.3" font-size="5.6" fill="#444" text-anchor="end">110,000</text>
<line x1="124.3" y1="465.5" x2="234.3" y2="465.5" stroke="#bcbcbc" stroke-width="1" />
<text x="122.6" y="467.3" font-size="5.6" fill="#444" text-anchor="end">0</text>
<line x1="126.5" y1="388.3" x2="126.5" y2="467.3" stroke="#c8c8c8" stroke-width="1" />
<line x1="126.3" y1="465.3" x2="126.3" y2="467.3" stroke="#999" stroke-width="0.8" />
<text x="126.3" y="473.7" font-size="5.6" fill="#444" text-anchor="middle">0</text>
<line x1="147.9" y1="465.3" x2="147.9" y2="467.3" stroke="#999" stroke-width="0.8" />
<text x="147.9" y="473.7" font-size="5.6" fill="#444" text-anchor="middle">2</text>
<line x1="169.5" y1="465.3" x2="169.5" y2="467.3" stroke="#999" stroke-width="0.8" />
<text x="169.5" y="473.7" font-size="5.6" fill="#444" text-anchor="middle">4</text>
<line x1="191.10000000000002" y1="465.3" x2="191.10000000000002" y2="467.3" stroke="#999" stroke-width="0.8" />
<text x="191.10000000000002" y="473.7" font-size="5.6" fill="#444" text-anchor="middle">6</text>
<line x1="212.7" y1="465.3" x2="212.7" y2="467.3" stroke="#999" stroke-width="0.8" />
<text x="212.7" y="473.7" font-size="5.6" fill="#444" text-anchor="middle">8</text>
<line x1="234.3" y1="465.3" x2="234.3" y2="467.3" stroke="#999" stroke-width="0.8" />
<text x="234.3" y="473.7" font-size="5.6" fill="#444" text-anchor="middle">10</text>
<line x1="147.9" y1="443.3" x2="147.9" y2="451.9" stroke="#777" stroke-width="1" />
<line x1="145.9" y1="443.3" x2="149.9" y2="443.3" stroke="#777" stroke-width="1" />
<line x1="145.9" y1="451.9" x2="149.9" y2="451.9" stroke="#777" stroke-width="1" />
<line x1="180.3" y1="440.2" x2="180.3" y2="461.8" stroke="#777" stroke-width="1" />
<line x1="178.3" y1="440.2" x2="182.3" y2="440.2" stroke="#777" stroke-width="1" />
<line x1="178.3" y1="461.8" x2="182.3" y2="461.8" stroke="#777" stroke-width="1" />
<line x1="212.7" y1="450.4" x2="212.7" y2="459.6" stroke="#777" stroke-width="1" />
<line x1="210.7" y1="450.4" x2="214.7" y2="450.4" stroke="#777" stroke-width="1" />
<line x1="210.7" y1="459.6" x2="214.7" y2="459.6" stroke="#777" stroke-width="1" />
<polyline points="126.30,398.20 147.90,447.90 180.30,451.00 212.70,455.60" fill="none" stroke="#000" stroke-width="2.0" stroke-linejoin="round"/>
<circle cx="126.30" cy="398.20" r="2.35" fill="#000"/>
<circle cx="147.90" cy="447.90" r="2.35" fill="#000"/>
<circle cx="180.30" cy="451.00" r="2.35" fill="#000"/>
<circle cx="212.70" cy="455.60" r="2.35" fill="#000"/>
<line x1="261.7" y1="388.5" x2="373.8" y2="388.5" stroke="#bcbcbc" stroke-width="1" />
<text x="259.8" y="390.3" font-size="5.6" fill="#444" text-anchor="end">20,000</text>
<line x1="261.7" y1="407.5" x2="373.8" y2="407.5" stroke="#bcbcbc" stroke-width="1" />
<text x="259.8" y="409.3" font-size="5.6" fill="#444" text-anchor="end">15,000</text>
<line x1="261.7" y1="426.5" x2="373.8" y2="426.5" stroke="#bcbcbc" stroke-width="1" />
<text x="259.8" y="428.3" font-size="5.6" fill="#444" text-anchor="end">10,000</text>
<line x1="261.7" y1="446.5" x2="373.8" y2="446.5" stroke="#bcbcbc" stroke-width="1" />
<text x="259.8" y="448.3" font-size="5.6" fill="#444" text-anchor="end">5,000</text>
<line x1="261.7" y1="465.5" x2="373.8" y2="465.5" stroke="#bcbcbc" stroke-width="1" />
<text x="259.8" y="467.3" font-size="5.6" fill="#444" text-anchor="end">0</text>
<line x1="264.5" y1="388.3" x2="264.5" y2="467.3" stroke="#c8c8c8" stroke-width="1" />
<line x1="263.7" y1="465.3" x2="263.7" y2="467.3" stroke="#999" stroke-width="0.8" />
<text x="263.7" y="473.7" font-size="5.6" fill="#444" text-anchor="middle">0</text>
<line x1="285.71999999999997" y1="465.3" x2="285.71999999999997" y2="467.3" stroke="#999" stroke-width="0.8" />
<text x="285.71999999999997" y="473.7" font-size="5.6" fill="#444" text-anchor="middle">2</text>
<line x1="307.74" y1="465.3" x2="307.74" y2="467.3" stroke="#999" stroke-width="0.8" />
<text x="307.74" y="473.7" font-size="5.6" fill="#444" text-anchor="middle">4</text>
<line x1="329.76" y1="465.3" x2="329.76" y2="467.3" stroke="#999" stroke-width="0.8" />
<text x="329.76" y="473.7" font-size="5.6" fill="#444" text-anchor="middle">6</text>
<line x1="351.78" y1="465.3" x2="351.78" y2="467.3" stroke="#999" stroke-width="0.8" />
<text x="351.78" y="473.7" font-size="5.6" fill="#444" text-anchor="middle">8</text>
<line x1="373.8" y1="465.3" x2="373.8" y2="467.3" stroke="#999" stroke-width="0.8" />
<text x="373.8" y="473.7" font-size="5.6" fill="#444" text-anchor="middle">10</text>
<line x1="285.71999999999997" y1="408.2" x2="285.71999999999997" y2="435.0" stroke="#777" stroke-width="1" />
<line x1="283.71999999999997" y1="408.2" x2="287.71999999999997" y2="408.2" stroke="#777" stroke-width="1" />
<line x1="283.71999999999997" y1="435.0" x2="287.71999999999997" y2="435.0" stroke="#777" stroke-width="1" />
<line x1="318.75" y1="452.0" x2="318.75" y2="461.8" stroke="#777" stroke-width="1" />
<line x1="316.75" y1="452.0" x2="320.75" y2="452.0" stroke="#777" stroke-width="1" />
<line x1="316.75" y1="461.8" x2="320.75" y2="461.8" stroke="#777" stroke-width="1" />
<line x1="351.78" y1="446.4" x2="351.78" y2="460.5" stroke="#777" stroke-width="1" />
<line x1="349.78" y1="446.4" x2="353.78" y2="446.4" stroke="#777" stroke-width="1" />
<line x1="349.78" y1="460.5" x2="353.78" y2="460.5" stroke="#777" stroke-width="1" />
<polyline points="263.70,465.30 285.72,421.80 318.75,457.20 351.78,453.50" fill="none" stroke="#000" stroke-width="2.0" stroke-linejoin="round"/>
<circle cx="263.70" cy="465.30" r="2.35" fill="#000"/>
<circle cx="285.72" cy="421.80" r="2.35" fill="#000"/>
<circle cx="318.75" cy="457.20" r="2.35" fill="#000"/>
<circle cx="351.78" cy="453.50" r="2.35" fill="#000"/>
<line x1="401.0" y1="388.5" x2="513.8" y2="388.5" stroke="#bcbcbc" stroke-width="1" />
<text x="399.4" y="390.3" font-size="5.6" fill="#444" text-anchor="end">3,200</text>
<line x1="401.0" y1="407.5" x2="513.8" y2="407.5" stroke="#bcbcbc" stroke-width="1" />
<text x="399.4" y="409.3" font-size="5.6" fill="#444" text-anchor="end">2,400</text>
<line x1="401.0" y1="426.5" x2="513.8" y2="426.5" stroke="#bcbcbc" stroke-width="1" />
<text x="399.4" y="428.3" font-size="5.6" fill="#444" text-anchor="end">1,600</text>
<line x1="401.0" y1="446.5" x2="513.8" y2="446.5" stroke="#bcbcbc" stroke-width="1" />
<text x="399.4" y="448.3" font-size="5.6" fill="#444" text-anchor="end">800</text>
<line x1="401.0" y1="465.5" x2="513.8" y2="465.5" stroke="#bcbcbc" stroke-width="1" />
<text x="399.4" y="467.3" font-size="5.6" fill="#444" text-anchor="end">0</text>
<line x1="403.5" y1="388.3" x2="403.5" y2="467.3" stroke="#c8c8c8" stroke-width="1" />
<line x1="403.0" y1="465.3" x2="403.0" y2="467.3" stroke="#999" stroke-width="0.8" />
<text x="403.0" y="473.7" font-size="5.6" fill="#444" text-anchor="middle">0</text>
<line x1="425.15999999999997" y1="465.3" x2="425.15999999999997" y2="467.3" stroke="#999" stroke-width="0.8" />
<text x="425.15999999999997" y="473.7" font-size="5.6" fill="#444" text-anchor="middle">2</text>
<line x1="447.32" y1="465.3" x2="447.32" y2="467.3" stroke="#999" stroke-width="0.8" />
<text x="447.32" y="473.7" font-size="5.6" fill="#444" text-anchor="middle">4</text>
<line x1="469.47999999999996" y1="465.3" x2="469.47999999999996" y2="467.3" stroke="#999" stroke-width="0.8" />
<text x="469.47999999999996" y="473.7" font-size="5.6" fill="#444" text-anchor="middle">6</text>
<line x1="491.64" y1="465.3" x2="491.64" y2="467.3" stroke="#999" stroke-width="0.8" />
<text x="491.64" y="473.7" font-size="5.6" fill="#444" text-anchor="middle">8</text>
<line x1="513.8" y1="465.3" x2="513.8" y2="467.3" stroke="#999" stroke-width="0.8" />
<text x="513.8" y="473.7" font-size="5.6" fill="#444" text-anchor="middle">10</text>
<line x1="425.15999999999997" y1="457.5" x2="425.15999999999997" y2="462.7" stroke="#777" stroke-width="1" />
<line x1="423.15999999999997" y1="457.5" x2="427.15999999999997" y2="457.5" stroke="#777" stroke-width="1" />
<line x1="423.15999999999997" y1="462.7" x2="427.15999999999997" y2="462.7" stroke="#777" stroke-width="1" />
<line x1="458.4" y1="442.0" x2="458.4" y2="455.0" stroke="#777" stroke-width="1" />
<line x1="456.4" y1="442.0" x2="460.4" y2="442.0" stroke="#777" stroke-width="1" />
<line x1="456.4" y1="455.0" x2="460.4" y2="455.0" stroke="#777" stroke-width="1" />
<line x1="491.64" y1="395.9" x2="491.64" y2="431.0" stroke="#777" stroke-width="1" />
<line x1="489.64" y1="395.9" x2="493.64" y2="395.9" stroke="#777" stroke-width="1" />
<line x1="489.64" y1="431.0" x2="493.64" y2="431.0" stroke="#777" stroke-width="1" />
<polyline points="403.00,465.30 425.16,460.50 458.40,448.80 491.64,413.50" fill="none" stroke="#000" stroke-width="2.0" stroke-linejoin="round"/>
<circle cx="403.00" cy="465.30" r="2.35" fill="#000"/>
<circle cx="425.16" cy="460.50" r="2.35" fill="#000"/>
<circle cx="458.40" cy="448.80" r="2.35" fill="#000"/>
<circle cx="491.64" cy="413.50" r="2.35" fill="#000"/>
<line x1="121.3" y1="500.5" x2="233.8" y2="500.5" stroke="#bcbcbc" stroke-width="1" />
<text x="120.2" y="502.3" font-size="5.6" fill="#444" text-anchor="end">14,000</text>
<line x1="121.3" y1="519.5" x2="233.8" y2="519.5" stroke="#bcbcbc" stroke-width="1" />
<text x="120.2" y="521.3" font-size="5.6" fill="#444" text-anchor="end">10,500</text>
<line x1="121.3" y1="539.5" x2="233.8" y2="539.5" stroke="#bcbcbc" stroke-width="1" />
<text x="120.2" y="541.3" font-size="5.6" fill="#444" text-anchor="end">7,000</text>
<line x1="121.3" y1="558.5" x2="233.8" y2="558.5" stroke="#bcbcbc" stroke-width="1" />
<text x="120.2" y="560.3" font-size="5.6" fill="#444" text-anchor="end">3,500</text>
<line x1="121.3" y1="577.5" x2="233.8" y2="577.5" stroke="#bcbcbc" stroke-width="1" />
<text x="120.2" y="579.3" font-size="5.6" fill="#444" text-anchor="end">0</text>
<line x1="123.5" y1="500.6" x2="123.5" y2="579.4" stroke="#c8c8c8" stroke-width="1" />
<line x1="123.3" y1="577.4" x2="123.3" y2="579.4" stroke="#999" stroke-width="0.8" />
<text x="123.3" y="585.8" font-size="5.6" fill="#444" text-anchor="middle">0</text>
<line x1="145.4" y1="577.4" x2="145.4" y2="579.4" stroke="#999" stroke-width="0.8" />
<text x="145.4" y="585.8" font-size="5.6" fill="#444" text-anchor="middle">2</text>
<line x1="167.5" y1="577.4" x2="167.5" y2="579.4" stroke="#999" stroke-width="0.8" />
<text x="167.5" y="585.8" font-size="5.6" fill="#444" text-anchor="middle">4</text>
<line x1="189.60000000000002" y1="577.4" x2="189.60000000000002" y2="579.4" stroke="#999" stroke-width="0.8" />
<text x="189.60000000000002" y="585.8" font-size="5.6" fill="#444" text-anchor="middle">6</text>
<line x1="211.7" y1="577.4" x2="211.7" y2="579.4" stroke="#999" stroke-width="0.8" />
<text x="211.7" y="585.8" font-size="5.6" fill="#444" text-anchor="middle">8</text>
<line x1="233.8" y1="577.4" x2="233.8" y2="579.4" stroke="#999" stroke-width="0.8" />
<text x="233.8" y="585.8" font-size="5.6" fill="#444" text-anchor="middle">10</text>
<line x1="145.4" y1="505.4" x2="145.4" y2="536.8" stroke="#777" stroke-width="1" />
<line x1="143.4" y1="505.4" x2="147.4" y2="505.4" stroke="#777" stroke-width="1" />
<line x1="143.4" y1="536.8" x2="147.4" y2="536.8" stroke="#777" stroke-width="1" />
<line x1="178.55" y1="511.5" x2="178.55" y2="527.5" stroke="#777" stroke-width="1" />
<line x1="176.55" y1="511.5" x2="180.55" y2="511.5" stroke="#777" stroke-width="1" />
<line x1="176.55" y1="527.5" x2="180.55" y2="527.5" stroke="#777" stroke-width="1" />
<line x1="211.7" y1="525.4" x2="211.7" y2="557.1" stroke="#777" stroke-width="1" />
<line x1="209.7" y1="525.4" x2="213.7" y2="525.4" stroke="#777" stroke-width="1" />
<line x1="209.7" y1="557.1" x2="213.7" y2="557.1" stroke="#777" stroke-width="1" />
<polyline points="123.30,577.70 145.40,520.80 178.55,519.20 211.70,541.40" fill="none" stroke="#000" stroke-width="2.0" stroke-linejoin="round"/>
<circle cx="123.30" cy="577.70" r="2.35" fill="#000"/>
<circle cx="145.40" cy="520.80" r="2.35" fill="#000"/>
<circle cx="178.55" cy="519.20" r="2.35" fill="#000"/>
<circle cx="211.70" cy="541.40" r="2.35" fill="#000"/>
<line x1="264.3" y1="500.5" x2="373.8" y2="500.5" stroke="#bcbcbc" stroke-width="1" />
<text x="262.5" y="502.3" font-size="5.6" fill="#444" text-anchor="end">400,000</text>
<line x1="264.3" y1="519.5" x2="373.8" y2="519.5" stroke="#bcbcbc" stroke-width="1" />
<text x="262.5" y="521.3" font-size="5.6" fill="#444" text-anchor="end">300,000</text>
<line x1="264.3" y1="539.5" x2="373.8" y2="539.5" stroke="#bcbcbc" stroke-width="1" />
<text x="262.5" y="541.3" font-size="5.6" fill="#444" text-anchor="end">200,000</text>
<line x1="264.3" y1="558.5" x2="373.8" y2="558.5" stroke="#bcbcbc" stroke-width="1" />
<text x="262.5" y="560.3" font-size="5.6" fill="#444" text-anchor="end">100,000</text>
<line x1="264.3" y1="577.5" x2="373.8" y2="577.5" stroke="#bcbcbc" stroke-width="1" />
<text x="262.5" y="579.3" font-size="5.6" fill="#444" text-anchor="end">0</text>
<line x1="266.5" y1="500.6" x2="266.5" y2="579.4" stroke="#c8c8c8" stroke-width="1" />
<line x1="266.3" y1="577.4" x2="266.3" y2="579.4" stroke="#999" stroke-width="0.8" />
<text x="266.3" y="585.8" font-size="5.6" fill="#444" text-anchor="middle">0</text>
<line x1="287.8" y1="577.4" x2="287.8" y2="579.4" stroke="#999" stroke-width="0.8" />
<text x="287.8" y="585.8" font-size="5.6" fill="#444" text-anchor="middle">2</text>
<line x1="309.3" y1="577.4" x2="309.3" y2="579.4" stroke="#999" stroke-width="0.8" />
<text x="309.3" y="585.8" font-size="5.6" fill="#444" text-anchor="middle">4</text>
<line x1="330.8" y1="577.4" x2="330.8" y2="579.4" stroke="#999" stroke-width="0.8" />
<text x="330.8" y="585.8" font-size="5.6" fill="#444" text-anchor="middle">6</text>
<line x1="352.3" y1="577.4" x2="352.3" y2="579.4" stroke="#999" stroke-width="0.8" />
<text x="352.3" y="585.8" font-size="5.6" fill="#444" text-anchor="middle">8</text>
<line x1="373.8" y1="577.4" x2="373.8" y2="579.4" stroke="#999" stroke-width="0.8" />
<text x="373.8" y="585.8" font-size="5.6" fill="#444" text-anchor="middle">10</text>
<line x1="287.8" y1="565.0" x2="287.8" y2="573.0" stroke="#777" stroke-width="1" />
<line x1="285.8" y1="565.0" x2="289.8" y2="565.0" stroke="#777" stroke-width="1" />
<line x1="285.8" y1="573.0" x2="289.8" y2="573.0" stroke="#777" stroke-width="1" />
<line x1="320.05" y1="570.6" x2="320.05" y2="576.2" stroke="#777" stroke-width="1" />
<line x1="318.05" y1="570.6" x2="322.05" y2="570.6" stroke="#777" stroke-width="1" />
<line x1="318.05" y1="576.2" x2="322.05" y2="576.2" stroke="#777" stroke-width="1" />
<line x1="352.3" y1="572.0" x2="352.3" y2="575.8" stroke="#777" stroke-width="1" />
<line x1="350.3" y1="572.0" x2="354.3" y2="572.0" stroke="#777" stroke-width="1" />
<line x1="350.3" y1="575.8" x2="354.3" y2="575.8" stroke="#777" stroke-width="1" />
<polyline points="266.30,507.80 287.80,569.10 320.05,573.10 352.30,574.00" fill="none" stroke="#000" stroke-width="2.0" stroke-linejoin="round"/>
<circle cx="266.30" cy="507.80" r="2.35" fill="#000"/>
<circle cx="287.80" cy="569.10" r="2.35" fill="#000"/>
<circle cx="320.05" cy="573.10" r="2.35" fill="#000"/>
<circle cx="352.30" cy="574.00" r="2.35" fill="#000"/>
<line x1="403.5" y1="500.5" x2="513.8" y2="500.5" stroke="#bcbcbc" stroke-width="1" />
<text x="401.5" y="502.3" font-size="5.6" fill="#444" text-anchor="end">24,000</text>
<line x1="403.5" y1="519.5" x2="513.8" y2="519.5" stroke="#bcbcbc" stroke-width="1" />
<text x="401.5" y="521.3" font-size="5.6" fill="#444" text-anchor="end">18,000</text>
<line x1="403.5" y1="539.5" x2="513.8" y2="539.5" stroke="#bcbcbc" stroke-width="1" />
<text x="401.5" y="541.3" font-size="5.6" fill="#444" text-anchor="end">12,000</text>
<line x1="403.5" y1="558.5" x2="513.8" y2="558.5" stroke="#bcbcbc" stroke-width="1" />
<text x="401.5" y="560.3" font-size="5.6" fill="#444" text-anchor="end">6,000</text>
<line x1="403.5" y1="577.5" x2="513.8" y2="577.5" stroke="#bcbcbc" stroke-width="1" />
<text x="401.5" y="579.3" font-size="5.6" fill="#444" text-anchor="end">0</text>
<line x1="406.5" y1="500.6" x2="406.5" y2="579.4" stroke="#c8c8c8" stroke-width="1" />
<line x1="405.5" y1="577.4" x2="405.5" y2="579.4" stroke="#999" stroke-width="0.8" />
<text x="405.5" y="585.8" font-size="5.6" fill="#444" text-anchor="middle">0</text>
<line x1="427.15999999999997" y1="577.4" x2="427.15999999999997" y2="579.4" stroke="#999" stroke-width="0.8" />
<text x="427.15999999999997" y="585.8" font-size="5.6" fill="#444" text-anchor="middle">2</text>
<line x1="448.82" y1="577.4" x2="448.82" y2="579.4" stroke="#999" stroke-width="0.8" />
<text x="448.82" y="585.8" font-size="5.6" fill="#444" text-anchor="middle">4</text>
<line x1="470.47999999999996" y1="577.4" x2="470.47999999999996" y2="579.4" stroke="#999" stroke-width="0.8" />
<text x="470.47999999999996" y="585.8" font-size="5.6" fill="#444" text-anchor="middle">6</text>
<line x1="492.14" y1="577.4" x2="492.14" y2="579.4" stroke="#999" stroke-width="0.8" />
<text x="492.14" y="585.8" font-size="5.6" fill="#444" text-anchor="middle">8</text>
<line x1="513.8" y1="577.4" x2="513.8" y2="579.4" stroke="#999" stroke-width="0.8" />
<text x="513.8" y="585.8" font-size="5.6" fill="#444" text-anchor="middle">10</text>
<line x1="427.15999999999997" y1="542.9" x2="427.15999999999997" y2="553.0" stroke="#777" stroke-width="1" />
<line x1="425.15999999999997" y1="542.9" x2="429.15999999999997" y2="542.9" stroke="#777" stroke-width="1" />
<line x1="425.15999999999997" y1="553.0" x2="429.15999999999997" y2="553.0" stroke="#777" stroke-width="1" />
<line x1="459.65" y1="526.3" x2="459.65" y2="548.5" stroke="#777" stroke-width="1" />
<line x1="457.65" y1="526.3" x2="461.65" y2="526.3" stroke="#777" stroke-width="1" />
<line x1="457.65" y1="548.5" x2="461.65" y2="548.5" stroke="#777" stroke-width="1" />
<line x1="492.14" y1="520.8" x2="492.14" y2="528.5" stroke="#777" stroke-width="1" />
<line x1="490.14" y1="520.8" x2="494.14" y2="520.8" stroke="#777" stroke-width="1" />
<line x1="490.14" y1="528.5" x2="494.14" y2="528.5" stroke="#777" stroke-width="1" />
<polyline points="405.50,577.70 427.16,547.80 459.65,537.00 492.14,524.50" fill="none" stroke="#000" stroke-width="2.0" stroke-linejoin="round"/>
<circle cx="405.50" cy="577.70" r="2.35" fill="#000"/>
<circle cx="427.16" cy="547.80" r="2.35" fill="#000"/>
<circle cx="459.65" cy="537.00" r="2.35" fill="#000"/>
<circle cx="492.14" cy="524.50" r="2.35" fill="#000"/>
<ellipse cx="109.50" cy="124.40" rx="9.70" ry="9.00" fill="#b4b4b4" stroke="#2a2a2a" stroke-width="0.45"/>
<ellipse cx="109.43" cy="124.37" rx="8.54" ry="7.92" fill="#969696" stroke="#2a2a2a" stroke-width="0.45"/>
<ellipse cx="109.37" cy="124.33" rx="7.47" ry="6.93" fill="#777" stroke="#2a2a2a" stroke-width="0.45"/>
<ellipse cx="109.32" cy="124.31" rx="6.60" ry="6.12" fill="#4a4a4a" stroke="#2a2a2a" stroke-width="0.45"/>
<ellipse cx="109.27" cy="124.29" rx="5.82" ry="5.40" fill="#1c1c1c" stroke="#2a2a2a" stroke-width="0.45"/>
<ellipse cx="109.10" cy="124.20" rx="2.42" ry="2.25" fill="#2e2e2e" stroke="#2a2a2a" stroke-width="0.45"/>
<ellipse cx="217.0" cy="133.4" rx="12.0" ry="10.2" fill="none" stroke="#555" stroke-width="0.55" opacity="1"/>
<ellipse cx="215.5" cy="133.2" rx="10.6" ry="9.0" fill="none" stroke="#555" stroke-width="0.5" opacity="1"/>
<ellipse cx="214.0" cy="133.0" rx="9.2" ry="7.8" fill="none" stroke="#666" stroke-width="0.5" opacity="1"/>
<ellipse cx="213.0" cy="132.8" rx="7.8" ry="6.8" fill="none" stroke="#777" stroke-width="0.5" opacity="1"/>
<path d="M229 128 C236 124 246 122 252 123 C258 124 262 127 256 129 C248 131 238 131 229 130" fill="none" stroke="#777" stroke-width="0.6" opacity="1" stroke-linecap="round" stroke-linejoin="round" />
<path d="M232 126 C240 123 252 121 262 122" fill="none" stroke="#999" stroke-width="0.5" opacity="1" stroke-linecap="round" stroke-linejoin="round" />
<path d="M232 131 C240 130 250 128 258 126" fill="none" stroke="#999" stroke-width="0.5" opacity="1" stroke-linecap="round" stroke-linejoin="round" />
<ellipse cx="221.80" cy="133.30" rx="10.60" ry="10.60" fill="#9a9a9a" stroke="#3a3a3a" stroke-width="0.45"/>
<ellipse cx="221.73" cy="133.23" rx="9.54" ry="9.54" fill="#858585" stroke="#3a3a3a" stroke-width="0.45"/>
<ellipse cx="221.66" cy="133.16" rx="8.48" ry="8.48" fill="#707070" stroke="#3a3a3a" stroke-width="0.45"/>
<ellipse cx="221.59" cy="133.09" rx="7.42" ry="7.42" fill="#5a5a5a" stroke="#3a3a3a" stroke-width="0.45"/>
<ellipse cx="221.51" cy="133.01" rx="6.36" ry="6.36" fill="#444" stroke="#3a3a3a" stroke-width="0.45"/>
<ellipse cx="221.44" cy="132.94" rx="5.30" ry="5.30" fill="#2a2a2a" stroke="#3a3a3a" stroke-width="0.45"/>
<ellipse cx="221.37" cy="132.87" rx="4.24" ry="4.24" fill="#1a1a1a" stroke="#3a3a3a" stroke-width="0.45"/>
<ellipse cx="221.30" cy="132.80" rx="2.97" ry="2.97" fill="#111" stroke="#3a3a3a" stroke-width="0.45"/>
<ellipse cx="221.30" cy="132.80" rx="0.85" ry="0.85" fill="#bbb" stroke="#3a3a3a" stroke-width="0.45"/>
<ellipse cx="322.0" cy="133.3" rx="11.0" ry="9.6" fill="none" stroke="#555" stroke-width="0.55" opacity="1"/>
<ellipse cx="320.5" cy="133.2" rx="9.6" ry="8.4" fill="none" stroke="#666" stroke-width="0.5" opacity="1"/>
<ellipse cx="319.5" cy="133.0" rx="8.2" ry="7.3" fill="none" stroke="#777" stroke-width="0.5" opacity="1"/>
<path d="M338 127 C343 124 348 126 350 124 C353 122 356 126 352 128 C348 130 343 129 338 129" fill="none" stroke="#777" stroke-width="0.6" opacity="1" stroke-linecap="round" stroke-linejoin="round" />
<ellipse cx="327.30" cy="133.00" rx="10.60" ry="10.60" fill="#9a9a9a" stroke="#3a3a3a" stroke-width="0.45"/>
<ellipse cx="327.34" cy="132.80" rx="9.54" ry="9.54" fill="#858585" stroke="#3a3a3a" stroke-width="0.45"/>
<ellipse cx="327.39" cy="132.60" rx="8.48" ry="8.48" fill="#707070" stroke="#3a3a3a" stroke-width="0.45"/>
<ellipse cx="327.43" cy="132.40" rx="7.42" ry="7.42" fill="#5a5a5a" stroke="#3a3a3a" stroke-width="0.45"/>
<ellipse cx="327.47" cy="132.20" rx="6.36" ry="6.36" fill="#444" stroke="#3a3a3a" stroke-width="0.45"/>
<ellipse cx="327.51" cy="132.00" rx="5.30" ry="5.30" fill="#2a2a2a" stroke="#3a3a3a" stroke-width="0.45"/>
<ellipse cx="327.56" cy="131.80" rx="4.24" ry="4.24" fill="#1a1a1a" stroke="#3a3a3a" stroke-width="0.45"/>
<ellipse cx="327.60" cy="131.60" rx="2.97" ry="2.97" fill="#111" stroke="#3a3a3a" stroke-width="0.45"/>
<ellipse cx="327.60" cy="131.60" rx="0.85" ry="0.85" fill="#bbb" stroke="#3a3a3a" stroke-width="0.45"/>
<ellipse cx="427.0" cy="133.4" rx="11.8" ry="10.2" fill="none" stroke="#555" stroke-width="0.55" opacity="1"/>
<ellipse cx="425.5" cy="133.2" rx="10.4" ry="9.0" fill="none" stroke="#555" stroke-width="0.5" opacity="1"/>
<ellipse cx="424.0" cy="133.0" rx="9.0" ry="7.9" fill="none" stroke="#666" stroke-width="0.5" opacity="1"/>
<ellipse cx="423.0" cy="132.8" rx="7.6" ry="6.8" fill="none" stroke="#777" stroke-width="0.5" opacity="1"/>
<path d="M441 126 C447 121 460 120 470 121 C462 125 456 129 446 130" fill="none" stroke="#666" stroke-width="0.7" opacity="1" stroke-linecap="round" stroke-linejoin="round" />
<path d="M444 127 C450 124 458 123 464 123" fill="none" stroke="#999" stroke-width="0.5" opacity="1" stroke-linecap="round" stroke-linejoin="round" />
<ellipse cx="452.5" cy="124.4" rx="2.2" ry="1.6" fill="none" stroke="#666" stroke-width="0.6" opacity="1"/>
<ellipse cx="432.30" cy="133.40" rx="10.60" ry="10.60" fill="#9a9a9a" stroke="#3a3a3a" stroke-width="0.45"/>
<ellipse cx="432.63" cy="133.06" rx="9.54" ry="9.54" fill="#858585" stroke="#3a3a3a" stroke-width="0.45"/>
<ellipse cx="432.96" cy="132.71" rx="8.48" ry="8.48" fill="#707070" stroke="#3a3a3a" stroke-width="0.45"/>
<ellipse cx="433.29" cy="132.37" rx="7.42" ry="7.42" fill="#5a5a5a" stroke="#3a3a3a" stroke-width="0.45"/>
<ellipse cx="433.61" cy="132.03" rx="6.36" ry="6.36" fill="#444" stroke="#3a3a3a" stroke-width="0.45"/>
<ellipse cx="433.94" cy="131.69" rx="5.30" ry="5.30" fill="#2a2a2a" stroke="#3a3a3a" stroke-width="0.45"/>
<ellipse cx="434.27" cy="131.34" rx="4.24" ry="4.24" fill="#1a1a1a" stroke="#3a3a3a" stroke-width="0.45"/>
<ellipse cx="434.60" cy="131.00" rx="2.97" ry="2.97" fill="#111" stroke="#3a3a3a" stroke-width="0.45"/>
<ellipse cx="434.60" cy="131.00" rx="0.85" ry="0.85" fill="#bbb" stroke="#3a3a3a" stroke-width="0.45"/>
<g filter="url(#soft)">
<ellipse cx="139.00" cy="220.00" rx="19.80" ry="8.50" fill="#f0f0f0" stroke="#303030" stroke-width="0.5" transform="rotate(-3 139.00 220.00)"/>
<ellipse cx="139.24" cy="219.67" rx="18.11" ry="7.77" fill="#d6d6d6" stroke="#303030" stroke-width="0.5" transform="rotate(-3 139.24 219.67)"/>
<ellipse cx="139.48" cy="219.36" rx="16.49" ry="7.08" fill="#bcbcbc" stroke="#303030" stroke-width="0.5" transform="rotate(-3 139.48 219.36)"/>
<ellipse cx="139.70" cy="219.06" rx="14.98" ry="6.43" fill="#a2a2a2" stroke="#303030" stroke-width="0.5" transform="rotate(-3 139.70 219.06)"/>
<ellipse cx="139.90" cy="218.79" rx="13.59" ry="5.83" fill="#898989" stroke="#303030" stroke-width="0.5" transform="rotate(-3 139.90 218.79)"/>
<ellipse cx="140.07" cy="218.55" rx="12.37" ry="5.31" fill="#6f6f6f" stroke="#303030" stroke-width="0.5" transform="rotate(-3 140.07 218.55)"/>
<ellipse cx="140.20" cy="218.38" rx="11.48" ry="4.93" fill="#262626" stroke="#303030" stroke-width="0.5" transform="rotate(-3 140.20 218.38)"/>
<ellipse cx="140.57" cy="217.88" rx="8.91" ry="3.83" fill="#141414" stroke="#303030" stroke-width="0.5" transform="rotate(-3 140.57 217.88)"/>
<ellipse cx="141.00" cy="217.30" rx="4.36" ry="1.87" fill="#333" stroke="#303030" stroke-width="0.5" transform="rotate(-3 141.00 217.30)"/>
<path d="M261.0 209.8 C253.0 209.8 249.0 212.8 249.0 215.9 C249.0 219.0 253.0 222.0 261.0 222.0" fill="none" stroke="#555" stroke-width="0.5" opacity="1" stroke-linecap="round" stroke-linejoin="round" />
<path d="M259.0 209.4 C249.8 209.4 245.8 212.4 245.8 215.9 C245.8 219.3 249.8 222.3 259.0 222.3" fill="none" stroke="#5a5a5a" stroke-width="0.5" opacity="1" stroke-linecap="round" stroke-linejoin="round" />
<path d="M257.0 209.0 C246.6 209.0 242.6 212.0 242.6 215.8 C242.6 219.6 246.6 222.6 257.0 222.6" fill="none" stroke="#666" stroke-width="0.5" opacity="1" stroke-linecap="round" stroke-linejoin="round" />
<path d="M255.0 208.6 C243.4 208.6 239.4 211.6 239.4 215.8 C239.4 219.9 243.4 222.9 255.0 222.9" fill="none" stroke="#6a6a6a" stroke-width="0.5" opacity="1" stroke-linecap="round" stroke-linejoin="round" />
<path d="M253.0 208.2 C240.2 208.2 236.2 211.2 236.2 215.7 C236.2 220.2 240.2 223.2 253.0 223.2" fill="none" stroke="#777" stroke-width="0.5" opacity="1" stroke-linecap="round" stroke-linejoin="round" />
<path d="M251.0 207.8 C237.0 207.8 233.0 210.8 233.0 215.7 C233.0 220.5 237.0 223.5 251.0 223.5" fill="none" stroke="#888" stroke-width="0.5" opacity="1" stroke-linecap="round" stroke-linejoin="round" />
<path d="M226 226 C232 222 238 221 244 221" fill="none" stroke="#888" stroke-width="0.5" opacity="1" stroke-linecap="round" stroke-linejoin="round" />
<path d="M216.5 240 L232 232.5 L249 225.5" fill="none" stroke="#303030" stroke-width="12.00" stroke-linecap="round" stroke-linejoin="round"/>
<path d="M216.5 240 L232 232.5 L249 225.5" fill="none" stroke="#f0f0f0" stroke-width="11.00" stroke-linecap="round" stroke-linejoin="round"/>
<path d="M216.5 240 L232 232.5 L249 225.5" fill="none" stroke="#303030" stroke-width="10.59" stroke-linecap="round" stroke-linejoin="round"/>
<path d="M216.5 240 L232 232.5 L249 225.5" fill="none" stroke="#cfcfcf" stroke-width="9.59" stroke-linecap="round" stroke-linejoin="round"/>
<path d="M216.5 240 L232 232.5 L249 225.5" fill="none" stroke="#303030" stroke-width="9.25" stroke-linecap="round" stroke-linejoin="round"/>
<path d="M216.5 240 L232 232.5 L249 225.5" fill="none" stroke="#aeaeae" stroke-width="8.25" stroke-linecap="round" stroke-linejoin="round"/>
<path d="M216.5 240 L232 232.5 L249 225.5" fill="none" stroke="#303030" stroke-width="8.00" stroke-linecap="round" stroke-linejoin="round"/>
<path d="M216.5 240 L232 232.5 L249 225.5" fill="none" stroke="#8c8c8c" stroke-width="7.00" stroke-linecap="round" stroke-linejoin="round"/>
<path d="M216.5 240 L232 232.5 L249 225.5" fill="none" stroke="#303030" stroke-width="6.87" stroke-linecap="round" stroke-linejoin="round"/>
<path d="M216.5 240 L232 232.5 L249 225.5" fill="none" stroke="#6b6b6b" stroke-width="5.87" stroke-linecap="round" stroke-linejoin="round"/>
<path d="M216.5 240 L232 232.5 L249 225.5" fill="none" stroke="#303030" stroke-width="4.80" stroke-linecap="round" stroke-linejoin="round"/>
<path d="M216.5 240 L232 232.5 L249 225.5" fill="none" stroke="#262626" stroke-width="3.80" stroke-linecap="round" stroke-linejoin="round"/>
<path d="M216.5 240 L232 232.5 L249 225.5" fill="none" stroke="#303030" stroke-width="3.00" stroke-linecap="round" stroke-linejoin="round"/>
<path d="M216.5 240 L232 232.5 L249 225.5" fill="none" stroke="#111" stroke-width="2.00" stroke-linecap="round" stroke-linejoin="round"/>
<path d="M249 225.5 L262 221" fill="none" stroke="#303030" stroke-width="7.00" stroke-linecap="round" stroke-linejoin="round"/>
<path d="M249 225.5 L262 221" fill="none" stroke="#f0f0f0" stroke-width="6.00" stroke-linecap="round" stroke-linejoin="round"/>
<path d="M249 225.5 L262 221" fill="none" stroke="#303030" stroke-width="5.65" stroke-linecap="round" stroke-linejoin="round"/>
<path d="M249 225.5 L262 221" fill="none" stroke="#c8c8c8" stroke-width="4.65" stroke-linecap="round" stroke-linejoin="round"/>
<path d="M249 225.5 L262 221" fill="none" stroke="#303030" stroke-width="4.44" stroke-linecap="round" stroke-linejoin="round"/>
<path d="M249 225.5 L262 221" fill="none" stroke="#9f9f9f" stroke-width="3.44" stroke-linecap="round" stroke-linejoin="round"/>
<ellipse cx="266.50" cy="216.20" rx="21.00" ry="8.60" fill="#f0f0f0" stroke="#303030" stroke-width="0.5" transform="rotate(-7 266.50 216.20)"/>
<ellipse cx="266.63" cy="216.17" rx="19.77" ry="8.10" fill="#d0d0d0" stroke="#303030" stroke-width="0.5" transform="rotate(-7 266.63 216.17)"/>
<ellipse cx="266.74" cy="216.14" rx="18.62" ry="7.63" fill="#b0b0b0" stroke="#303030" stroke-width="0.5" transform="rotate(-7 266.74 216.14)"/>
<ellipse cx="266.85" cy="216.11" rx="17.56" ry="7.19" fill="#909090" stroke="#303030" stroke-width="0.5" transform="rotate(-7 266.85 216.11)"/>
<ellipse cx="266.95" cy="216.08" rx="16.63" ry="6.81" fill="#707070" stroke="#303030" stroke-width="0.5" transform="rotate(-7 266.95 216.08)"/>
<ellipse cx="267.01" cy="216.06" rx="15.96" ry="6.54" fill="#222" stroke="#303030" stroke-width="0.5" transform="rotate(-7 267.01 216.06)"/>
<ellipse cx="267.27" cy="215.99" rx="13.44" ry="5.50" fill="#1a1a1a" stroke="#303030" stroke-width="0.5" transform="rotate(-7 267.27 215.99)"/>
<ellipse cx="267.53" cy="215.93" rx="10.92" ry="4.47" fill="#444" stroke="#303030" stroke-width="0.5" transform="rotate(-7 267.53 215.93)"/>
<ellipse cx="267.79" cy="215.86" rx="8.40" ry="3.44" fill="#8a8a8a" stroke="#303030" stroke-width="0.5" transform="rotate(-7 267.79 215.86)"/>
<ellipse cx="268.00" cy="215.80" rx="5.04" ry="2.06" fill="#b0b0b0" stroke="#303030" stroke-width="0.5" transform="rotate(-7 268.00 215.80)"/>
<path d="M336 218 C342 214 350 212 356 213" fill="none" stroke="#777" stroke-width="0.5" opacity="1" stroke-linecap="round" stroke-linejoin="round" />
<path d="M338 221 C344 216 352 215 358 216" fill="none" stroke="#777" stroke-width="0.5" opacity="1" stroke-linecap="round" stroke-linejoin="round" />
<path d="M340 224 C346 219 354 218 362 219" fill="none" stroke="#777" stroke-width="0.5" opacity="1" stroke-linecap="round" stroke-linejoin="round" />
<path d="M341 228 C348 224 355 223 362 224" fill="none" stroke="#888" stroke-width="0.5" opacity="1" stroke-linecap="round" stroke-linejoin="round" />
<path d="M344 230 C350 227 356 226 362 227" fill="none" stroke="#999" stroke-width="0.5" opacity="1" stroke-linecap="round" stroke-linejoin="round" />
<path d="M362.0 205.2 C354.0 205.2 350.0 208.2 350.0 211.7 C350.0 215.2 354.0 218.2 362.0 218.2" fill="none" stroke="#444" stroke-width="0.55" opacity="1" stroke-linecap="round" stroke-linejoin="round" />
<path d="M360.4 204.8 C351.4 204.8 347.4 207.8 347.4 211.8 C347.4 215.7 351.4 218.7 360.4 218.7" fill="none" stroke="#4a4a4a" stroke-width="0.55" opacity="1" stroke-linecap="round" stroke-linejoin="round" />
<path d="M358.8 204.5 C348.8 204.5 344.8 207.5 344.8 211.8 C344.8 216.2 348.8 219.2 358.8 219.2" fill="none" stroke="#555" stroke-width="0.55" opacity="1" stroke-linecap="round" stroke-linejoin="round" />
<path d="M357.2 204.1 C346.2 204.1 342.2 207.1 342.2 211.9 C342.2 216.7 346.2 219.7 357.2 219.7" fill="none" stroke="#5a5a5a" stroke-width="0.55" opacity="1" stroke-linecap="round" stroke-linejoin="round" />
<path d="M355.6 203.8 C343.6 203.8 339.6 206.8 339.6 212.0 C339.6 217.2 343.6 220.2 355.6 220.2" fill="none" stroke="#666" stroke-width="0.55" opacity="1" stroke-linecap="round" stroke-linejoin="round" />
<path d="M354.0 203.4 C341.0 203.4 337.0 206.4 337.0 212.1 C337.0 217.7 341.0 220.7 354.0 220.7" fill="none" stroke="#777" stroke-width="0.55" opacity="1" stroke-linecap="round" stroke-linejoin="round" />
<path d="M338 229 C346 224 356 222 366 222" fill="none" stroke="#555" stroke-width="0.55" opacity="1" stroke-linecap="round" stroke-linejoin="round" />
<path d="M340 231 C348 226 358 224 368 224.5" fill="none" stroke="#5a5a5a" stroke-width="0.55" opacity="1" stroke-linecap="round" stroke-linejoin="round" />
<path d="M343 232 C350 228 360 227 370 227" fill="none" stroke="#666" stroke-width="0.5" opacity="1" stroke-linecap="round" stroke-linejoin="round" />
<ellipse cx="366.50" cy="211.50" rx="28.00" ry="9.00" fill="#f0f0f0" stroke="#303030" stroke-width="0.5" transform="rotate(-2 366.50 211.50)"/>
<ellipse cx="366.54" cy="211.50" rx="26.53" ry="8.53" fill="#d9d9d9" stroke="#303030" stroke-width="0.5" transform="rotate(-2 366.54 211.50)"/>
<ellipse cx="366.57" cy="211.50" rx="25.12" ry="8.07" fill="#c2c2c2" stroke="#303030" stroke-width="0.5" transform="rotate(-2 366.57 211.50)"/>
<ellipse cx="366.61" cy="211.50" rx="23.77" ry="7.64" fill="#ababab" stroke="#303030" stroke-width="0.5" transform="rotate(-2 366.61 211.50)"/>
<ellipse cx="366.64" cy="211.50" rx="22.51" ry="7.24" fill="#959595" stroke="#303030" stroke-width="0.5" transform="rotate(-2 366.64 211.50)"/>
<ellipse cx="366.67" cy="211.50" rx="21.35" ry="6.86" fill="#7e7e7e" stroke="#303030" stroke-width="0.5" transform="rotate(-2 366.67 211.50)"/>
<ellipse cx="366.70" cy="211.50" rx="20.34" ry="6.54" fill="#676767" stroke="#303030" stroke-width="0.5" transform="rotate(-2 366.70 211.50)"/>
<ellipse cx="366.71" cy="211.50" rx="19.60" ry="6.30" fill="#1a1a1a" stroke="#303030" stroke-width="0.5" transform="rotate(-2 366.71 211.50)"/>
<ellipse cx="366.81" cy="211.50" rx="15.68" ry="5.04" fill="#222" stroke="#303030" stroke-width="0.5" transform="rotate(-2 366.81 211.50)"/>
<ellipse cx="366.91" cy="211.50" rx="11.76" ry="3.78" fill="#555" stroke="#303030" stroke-width="0.5" transform="rotate(-2 366.91 211.50)"/>
<ellipse cx="367.00" cy="211.50" rx="7.28" ry="2.34" fill="#999" stroke="#303030" stroke-width="0.5" transform="rotate(-2 367.00 211.50)"/>
<path d="M334 230 C340 228 344 226 350 224" fill="none" stroke="#303030" stroke-width="8.00" stroke-linecap="round" stroke-linejoin="round"/>
<path d="M334 230 C340 228 344 226 350 224" fill="none" stroke="#f0f0f0" stroke-width="7.00" stroke-linecap="round" stroke-linejoin="round"/>
<path d="M334 230 C340 228 344 226 350 224" fill="none" stroke="#303030" stroke-width="6.60" stroke-linecap="round" stroke-linejoin="round"/>
<path d="M334 230 C340 228 344 226 350 224" fill="none" stroke="#d2d2d2" stroke-width="5.60" stroke-linecap="round" stroke-linejoin="round"/>
<path d="M334 230 C340 228 344 226 350 224" fill="none" stroke="#303030" stroke-width="5.29" stroke-linecap="round" stroke-linejoin="round"/>
<path d="M334 230 C340 228 344 226 350 224" fill="none" stroke="#b4b4b4" stroke-width="4.29" stroke-linecap="round" stroke-linejoin="round"/>
<path d="M334 230 C340 228 344 226 350 224" fill="none" stroke="#303030" stroke-width="4.11" stroke-linecap="round" stroke-linejoin="round"/>
<path d="M334 230 C340 228 344 226 350 224" fill="none" stroke="#959595" stroke-width="3.11" stroke-linecap="round" stroke-linejoin="round"/>
<ellipse cx="322.00" cy="233.20" rx="18.60" ry="8.40" fill="#f0f0f0" stroke="#303030" stroke-width="0.5" transform="rotate(-4 322.00 233.20)"/>
<ellipse cx="322.00" cy="233.20" rx="17.52" ry="7.91" fill="#d0d0d0" stroke="#303030" stroke-width="0.5" transform="rotate(-4 322.00 233.20)"/>
<ellipse cx="312.50" cy="233.20" rx="8.60" ry="7.60" fill="#f0f0f0" stroke="#303030" stroke-width="0.5"/>
<ellipse cx="312.69" cy="233.26" rx="7.43" ry="6.57" fill="#d2d2d2" stroke="#303030" stroke-width="0.5"/>
<ellipse cx="312.87" cy="233.31" rx="6.36" ry="5.62" fill="#b4b4b4" stroke="#303030" stroke-width="0.5"/>
<ellipse cx="313.03" cy="233.36" rx="5.41" ry="4.78" fill="#959595" stroke="#303030" stroke-width="0.5"/>
<ellipse cx="313.14" cy="233.39" rx="4.73" ry="4.18" fill="#555" stroke="#303030" stroke-width="0.5"/>
<ellipse cx="313.36" cy="233.46" rx="3.44" ry="3.04" fill="#8a8a8a" stroke="#303030" stroke-width="0.5"/>
<ellipse cx="313.50" cy="233.50" rx="2.15" ry="1.90" fill="#bbb" stroke="#303030" stroke-width="0.5"/>
<path d="M311 228.5 C307 230 306.5 236 310 238.5" fill="none" stroke="#222" stroke-width="1.6" opacity="1" stroke-linecap="round" stroke-linejoin="round" />
<ellipse cx="328.00" cy="232.90" rx="11.20" ry="8.40" fill="#f0f0f0" stroke="#303030" stroke-width="0.5"/>
<ellipse cx="328.00" cy="232.91" rx="10.31" ry="7.73" fill="#c8c8c8" stroke="#303030" stroke-width="0.5"/>
<ellipse cx="328.00" cy="232.92" rx="9.53" ry="7.15" fill="#9f9f9f" stroke="#303030" stroke-width="0.5"/>
<ellipse cx="328.00" cy="232.93" rx="8.96" ry="6.72" fill="#151515" stroke="#303030" stroke-width="0.5"/>
<ellipse cx="328.00" cy="232.96" rx="6.72" ry="5.04" fill="#2a2a2a" stroke="#303030" stroke-width="0.5"/>
<ellipse cx="328.00" cy="232.98" rx="5.04" ry="3.78" fill="#777" stroke="#303030" stroke-width="0.5"/>
<ellipse cx="328.00" cy="233.00" rx="3.14" ry="2.35" fill="#aaa" stroke="#303030" stroke-width="0.5"/>
<ellipse cx="328.00" cy="233.00" rx="1.34" ry="1.01" fill="#ddd" stroke="#303030" stroke-width="0.5"/>
<path d="M414 232 C411 226 416 220 414 214 C418 209 424 210 428 214 C430 219 434 222 440 224" fill="none" stroke="#333" stroke-width="0.7" opacity="1" stroke-linecap="round" stroke-linejoin="round" />
<path d="M418 233 C416 227 420 221 418 216 C422 212 426 214 428 218 C431 222 436 224 442 226" fill="none" stroke="#333" stroke-width="0.7" opacity="1" stroke-linecap="round" stroke-linejoin="round" />
<path d="M422 234 C420 228 424 223 422 219 C426 216 430 220 432 223" fill="none" stroke="#333" stroke-width="0.7" opacity="1" stroke-linecap="round" stroke-linejoin="round" />
<path d="M410 224 C412 218 410 213 414 209 C418 207 422 208 426 212" fill="none" stroke="#444" stroke-width="0.65" opacity="1" stroke-linecap="round" stroke-linejoin="round" />
<path d="M412 228 C409 222 411 217 409 212" fill="none" stroke="#444" stroke-width="0.65" opacity="1" stroke-linecap="round" stroke-linejoin="round" />
<path d="M414 226 C413 220 416 215 415 210 C419 206 424 206 428 209" fill="none" stroke="#555" stroke-width="0.6" opacity="1" stroke-linecap="round" stroke-linejoin="round" />
<path d="M424 231 C423 226 426 222 425 219 C428 218 431 221 434 224" fill="none" stroke="#444" stroke-width="0.6" opacity="1" stroke-linecap="round" stroke-linejoin="round" />
<path d="M416 230 C414 224 418 218 416 212 C419 210 422 211 425 215" fill="none" stroke="#444" stroke-width="0.6" opacity="1" stroke-linecap="round" stroke-linejoin="round" />
<path d="M420 226 C419 222 421 218 420 215" fill="none" stroke="#888" stroke-width="0.5" opacity="1" stroke-linecap="round" stroke-linejoin="round" />
<path d="M440 228 C448 222 456 220 466 218" fill="none" stroke="#777" stroke-width="0.5" opacity="1" stroke-linecap="round" stroke-linejoin="round" />
<path d="M440 231 C448 226 458 223 468 221" fill="none" stroke="#777" stroke-width="0.5" opacity="1" stroke-linecap="round" stroke-linejoin="round" />
<path d="M444 233 C452 229 460 226 470 225" fill="none" stroke="#888" stroke-width="0.5" opacity="1" stroke-linecap="round" stroke-linejoin="round" />
<path d="M446 235 C454 232 462 230 472 229" fill="none" stroke="#999" stroke-width="0.5" opacity="1" stroke-linecap="round" stroke-linejoin="round" />
<path d="M475.0 206.2 C463.0 206.2 459.0 209.2 459.0 212.4 C459.0 215.6 463.0 218.6 475.0 218.6" fill="none" stroke="#555" stroke-width="0.5" opacity="1" stroke-linecap="round" stroke-linejoin="round" />
<path d="M472.4 205.8 C459.4 205.8 455.4 208.8 455.4 212.3 C455.4 215.9 459.4 218.9 472.4 218.9" fill="none" stroke="#555" stroke-width="0.5" opacity="1" stroke-linecap="round" stroke-linejoin="round" />
<path d="M469.8 205.3 C455.8 205.3 451.8 208.3 451.8 212.3 C451.8 216.3 455.8 219.3 469.8 219.3" fill="none" stroke="#5a5a5a" stroke-width="0.5" opacity="1" stroke-linecap="round" stroke-linejoin="round" />
<path d="M467.2 204.8 C452.2 204.8 448.2 207.8 448.2 212.2 C448.2 216.7 452.2 219.7 467.2 219.7" fill="none" stroke="#666" stroke-width="0.5" opacity="1" stroke-linecap="round" stroke-linejoin="round" />
<path d="M464.6 204.4 C448.6 204.4 444.6 207.4 444.6 212.2 C444.6 217.0 448.6 220.0 464.6 220.0" fill="none" stroke="#6a6a6a" stroke-width="0.5" opacity="1" stroke-linecap="round" stroke-linejoin="round" />
<path d="M462.0 203.9 C445.0 203.9 441.0 206.9 441.0 212.1 C441.0 217.3 445.0 220.3 462.0 220.3" fill="none" stroke="#777" stroke-width="0.5" opacity="1" stroke-linecap="round" stroke-linejoin="round" />
<path d="M459.4 203.5 C441.4 203.5 437.4 206.5 437.4 212.1 C437.4 217.7 441.4 220.7 459.4 220.7" fill="none" stroke="#888" stroke-width="0.5" opacity="1" stroke-linecap="round" stroke-linejoin="round" />
<ellipse cx="482.00" cy="211.80" rx="23.80" ry="8.80" fill="#f0f0f0" stroke="#303030" stroke-width="0.5" transform="rotate(-2 482.00 211.80)"/>
<ellipse cx="482.73" cy="211.77" rx="22.05" ry="8.15" fill="#d4d4d4" stroke="#303030" stroke-width="0.5" transform="rotate(-2 482.73 211.77)"/>
<ellipse cx="483.43" cy="211.74" rx="20.39" ry="7.54" fill="#b9b9b9" stroke="#303030" stroke-width="0.5" transform="rotate(-2 483.43 211.74)"/>
<ellipse cx="484.09" cy="211.71" rx="18.83" ry="6.96" fill="#9d9d9d" stroke="#303030" stroke-width="0.5" transform="rotate(-2 484.09 211.71)"/>
<ellipse cx="484.69" cy="211.68" rx="17.40" ry="6.43" fill="#818181" stroke="#303030" stroke-width="0.5" transform="rotate(-2 484.69 211.68)"/>
<ellipse cx="485.22" cy="211.66" rx="16.14" ry="5.97" fill="#666666" stroke="#303030" stroke-width="0.5" transform="rotate(-2 485.22 211.66)"/>
<ellipse cx="485.60" cy="211.65" rx="15.23" ry="5.63" fill="#1c1c1c" stroke="#303030" stroke-width="0.5" transform="rotate(-2 485.60 211.65)"/>
<ellipse cx="487.00" cy="211.59" rx="11.90" ry="4.40" fill="#151515" stroke="#303030" stroke-width="0.5" transform="rotate(-2 487.00 211.59)"/>
<ellipse cx="471.80" cy="213.00" rx="5.00" ry="2.80" fill="#111" stroke="#111" stroke-width="0.45"/>
<ellipse cx="471.80" cy="213.00" rx="3.50" ry="1.96" fill="#888" stroke="#111" stroke-width="0.45"/>
<ellipse cx="490.00" cy="211.00" rx="6.00" ry="1.60" fill="#555" stroke="#333" stroke-width="0.45"/>
<path d="M440 233 C446 233 452 232.5 460 231.5" fill="none" stroke="#303030" stroke-width="8.00" stroke-linecap="round" stroke-linejoin="round"/>
<path d="M440 233 C446 233 452 232.5 460 231.5" fill="none" stroke="#f0f0f0" stroke-width="7.00" stroke-linecap="round" stroke-linejoin="round"/>
<path d="M440 233 C446 233 452 232.5 460 231.5" fill="none" stroke="#303030" stroke-width="6.61" stroke-linecap="round" stroke-linejoin="round"/>
<path d="M440 233 C446 233 452 232.5 460 231.5" fill="none" stroke="#bcbcbc" stroke-width="5.61" stroke-linecap="round" stroke-linejoin="round"/>
<path d="M440 233 C446 233 452 232.5 460 231.5" fill="none" stroke="#303030" stroke-width="5.36" stroke-linecap="round" stroke-linejoin="round"/>
<path d="M440 233 C446 233 452 232.5 460 231.5" fill="none" stroke="#898989" stroke-width="4.36" stroke-linecap="round" stroke-linejoin="round"/>
<path d="M440 233 C446 233 452 232.5 460 231.5" fill="none" stroke="#303030" stroke-width="4.00" stroke-linecap="round" stroke-linejoin="round"/>
<path d="M440 233 C446 233 452 232.5 460 231.5" fill="none" stroke="#222" stroke-width="3.00" stroke-linecap="round" stroke-linejoin="round"/>
<path d="M440 233 C446 233 452 232.5 460 231.5" fill="none" stroke="#303030" stroke-width="2.20" stroke-linecap="round" stroke-linejoin="round"/>
<path d="M440 233 C446 233 452 232.5 460 231.5" fill="none" stroke="#111" stroke-width="1.20" stroke-linecap="round" stroke-linejoin="round"/>
<ellipse cx="436.00" cy="232.00" rx="14.00" ry="8.60" fill="#f0f0f0" stroke="#303030" stroke-width="0.5"/>
<ellipse cx="435.92" cy="231.92" rx="12.89" ry="7.92" fill="#c2c2c2" stroke="#303030" stroke-width="0.5"/>
<ellipse cx="435.85" cy="231.85" rx="11.91" ry="7.32" fill="#949494" stroke="#303030" stroke-width="0.5"/>
<ellipse cx="435.80" cy="231.80" rx="11.20" ry="6.88" fill="#2a2a2a" stroke="#303030" stroke-width="0.5"/>
<ellipse cx="435.66" cy="231.66" rx="9.24" ry="5.68" fill="#151515" stroke="#303030" stroke-width="0.5"/>
<ellipse cx="435.45" cy="231.45" rx="6.30" ry="3.87" fill="#444" stroke="#303030" stroke-width="0.5"/>
<ellipse cx="435.30" cy="231.30" rx="3.92" ry="2.41" fill="#888" stroke="#303030" stroke-width="0.5"/>
</g>
<ellipse cx="145.3" cy="100.1" rx="36.8" ry="10.7" stroke="#1e1e1e" stroke-width="1.1" fill="none" />
<ellipse cx="142.5" cy="117.8" rx="23.5" ry="6.8" stroke="#1e1e1e" stroke-width="1.1" fill="none" />
<circle cx="110.0" cy="125.9" r="11.0" fill="none" stroke="#1e1e1e" stroke-width="1.1"/>
<ellipse cx="257.0" cy="107.8" rx="36.5" ry="10.4" stroke="#1e1e1e" stroke-width="1.1" fill="none" />
<ellipse cx="254.2" cy="125.1" rx="23.8" ry="7.0" stroke="#1e1e1e" stroke-width="1.1" fill="none" />
<circle cx="221.8" cy="133.3" r="10.8" fill="none" stroke="#1e1e1e" stroke-width="1.1"/>
<ellipse cx="362.1" cy="107.5" rx="36.4" ry="10.2" stroke="#1e1e1e" stroke-width="1.1" fill="none" />
<ellipse cx="359.6" cy="125.3" rx="23.8" ry="6.9" stroke="#1e1e1e" stroke-width="1.1" fill="none" />
<circle cx="327.3" cy="133.0" r="10.8" fill="none" stroke="#1e1e1e" stroke-width="1.1"/>
<ellipse cx="467.7" cy="107.7" rx="36.5" ry="10.2" stroke="#1e1e1e" stroke-width="1.1" fill="none" />
<ellipse cx="464.7" cy="125.2" rx="23.5" ry="7.0" stroke="#1e1e1e" stroke-width="1.1" fill="none" />
<circle cx="432.3" cy="133.4" r="10.8" fill="none" stroke="#1e1e1e" stroke-width="1.1"/>
<ellipse cx="146.3" cy="202.9" rx="37.0" ry="10.9" stroke="#1e1e1e" stroke-width="1.1" fill="none" />
<ellipse cx="143.0" cy="220.4" rx="23.8" ry="7.0" stroke="#1e1e1e" stroke-width="1.1" fill="none" />
<circle cx="110.0" cy="228.4" r="10.8" fill="none" stroke="#1e1e1e" stroke-width="1.1"/>
<ellipse cx="257.5" cy="211.2" rx="36.3" ry="10.3" stroke="#1e1e1e" stroke-width="1.1" fill="none" />
<ellipse cx="255.8" cy="229.0" rx="23.0" ry="7.4" stroke="#1e1e1e" stroke-width="1.1" fill="none" />
<circle cx="221.8" cy="236.8" r="10.9" fill="none" stroke="#1e1e1e" stroke-width="1.1"/>
<ellipse cx="363.0" cy="211.6" rx="36.8" ry="10.6" stroke="#1e1e1e" stroke-width="1.1" fill="none" />
<ellipse cx="360.1" cy="229.2" rx="22.7" ry="7.0" stroke="#1e1e1e" stroke-width="1.1" fill="none" />
<circle cx="327.5" cy="238.0" r="11.0" fill="none" stroke="#1e1e1e" stroke-width="1.1"/>
<ellipse cx="468.2" cy="212.1" rx="36.5" ry="10.1" stroke="#1e1e1e" stroke-width="1.1" fill="none" />
<ellipse cx="466.1" cy="229.5" rx="22.7" ry="6.35" stroke="#1e1e1e" stroke-width="1.1" fill="none" />
<circle cx="433.1" cy="238.3" r="10.6" fill="none" stroke="#1e1e1e" stroke-width="1.1"/>
<text x="135.5" y="85.4" font-size="11.8" textLength="18.0" lengthAdjust="spacingAndGlyphs" stroke="#000" stroke-width="0.25">0%</text>
<text x="157.5" y="134.0" font-size="11.8" textLength="17.0" lengthAdjust="spacingAndGlyphs" stroke="#000" stroke-width="0.25">0%</text>
<text x="94.3" y="149.8" font-size="11.8" textLength="34.9" lengthAdjust="spacingAndGlyphs" stroke="#000" stroke-width="0.25">99.0%</text>
<text x="243.5" y="93.6" font-size="11.8" textLength="27.5" lengthAdjust="spacingAndGlyphs" stroke="#000" stroke-width="0.25">0.1%</text>
<text x="259.8" y="142.5" font-size="11.8" textLength="28.5" lengthAdjust="spacingAndGlyphs" stroke="#000" stroke-width="0.25">6.3%</text>
<text x="205.4" y="155.8" font-size="11.8" textLength="34.0" lengthAdjust="spacingAndGlyphs" stroke="#000" stroke-width="0.25">83.0%</text>
<text x="350.5" y="93.6" font-size="11.8" textLength="27.5" lengthAdjust="spacingAndGlyphs" stroke="#000" stroke-width="0.25">0.2%</text>
<text x="365.8" y="143.1" font-size="11.8" textLength="27.9" lengthAdjust="spacingAndGlyphs" stroke="#000" stroke-width="0.25">3.1%</text>
<text x="312.5" y="156.8" font-size="11.8" textLength="34.0" lengthAdjust="spacingAndGlyphs" stroke="#000" stroke-width="0.25">88.7%</text>
<text x="453.5" y="94.2" font-size="11.8" textLength="27.8" lengthAdjust="spacingAndGlyphs" stroke="#000" stroke-width="0.25">0.6%</text>
<text x="473.5" y="143.0" font-size="11.8" textLength="28.0" lengthAdjust="spacingAndGlyphs" stroke="#000" stroke-width="0.25">5.8%</text>
<text x="418.5" y="156.8" font-size="11.8" textLength="34.9" lengthAdjust="spacingAndGlyphs" stroke="#000" stroke-width="0.25">83.7%</text>
<text x="136.5" y="187.9" font-size="11.8" textLength="17.6" lengthAdjust="spacingAndGlyphs" stroke="#000" stroke-width="0.25">0%</text>
<text x="149.5" y="238.1" font-size="11.8" textLength="34.7" lengthAdjust="spacingAndGlyphs" stroke="#000" stroke-width="0.25">99.0%</text>
<text x="103.2" y="251.6" font-size="11.8" textLength="17.6" lengthAdjust="spacingAndGlyphs" stroke="#000" stroke-width="0.25">0%</text>
<text x="240.4" y="198.9" font-size="11.8" textLength="34.4" lengthAdjust="spacingAndGlyphs" stroke="#000" stroke-width="0.25">23.4%</text>
<text x="256.3" y="248.2" font-size="11.8" textLength="35.2" lengthAdjust="spacingAndGlyphs" stroke="#000" stroke-width="0.25">32.5%</text>
<text x="205.5" y="259.6" font-size="11.8" textLength="33.8" lengthAdjust="spacingAndGlyphs" stroke="#000" stroke-width="0.25">16.3%</text>
<text x="346.4" y="198.9" font-size="11.8" textLength="34.4" lengthAdjust="spacingAndGlyphs" stroke="#000" stroke-width="0.25">38.0%</text>
<text x="365.4" y="246.9" font-size="11.8" textLength="32.8" lengthAdjust="spacingAndGlyphs" stroke="#000" stroke-width="0.25">11.3%</text>
<text x="312.1" y="260.3" font-size="11.8" textLength="34.2" lengthAdjust="spacingAndGlyphs" stroke="#000" stroke-width="0.25">25.6%</text>
<text x="452.0" y="198.9" font-size="11.8" textLength="34.2" lengthAdjust="spacingAndGlyphs" stroke="#000" stroke-width="0.25">36.0%</text>
<text x="470.4" y="246.5" font-size="11.8" textLength="33.8" lengthAdjust="spacingAndGlyphs" stroke="#000" stroke-width="0.25">10.8%</text>
<text x="416.8" y="260.3" font-size="11.8" textLength="33.4" lengthAdjust="spacingAndGlyphs" stroke="#000" stroke-width="0.25">18.7%</text></svg></body></html>
